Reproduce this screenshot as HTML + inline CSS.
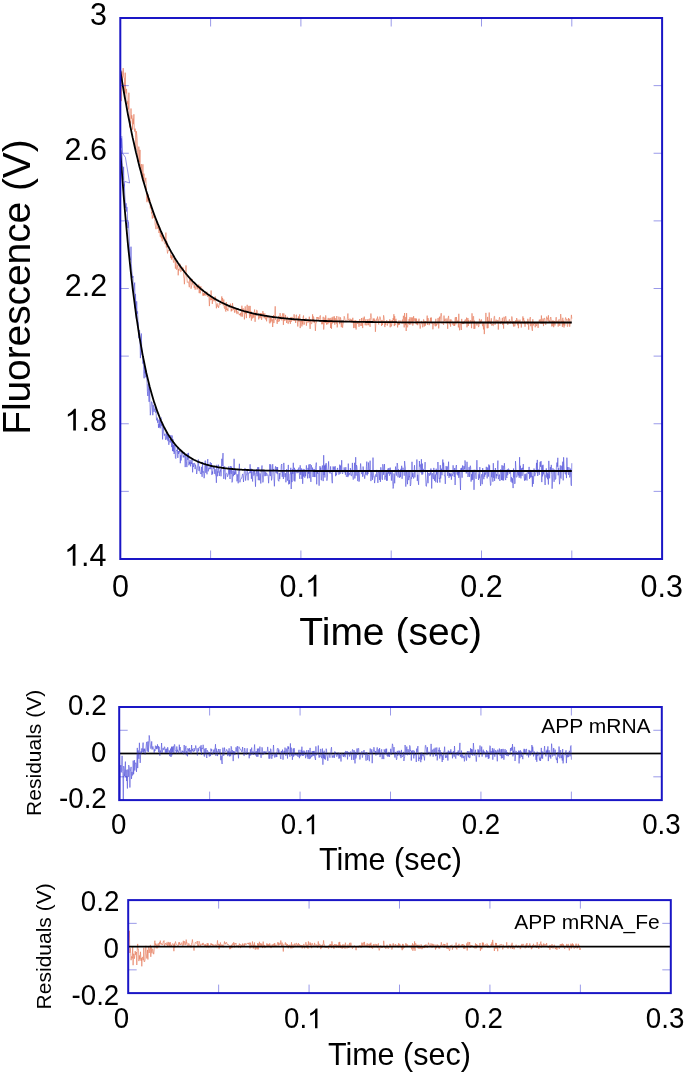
<!DOCTYPE html>
<html><head><meta charset="utf-8"><style>
html,body{margin:0;padding:0;background:#fff;}
svg{display:block;will-change:transform;}
text{font-family:"Liberation Sans",sans-serif;}
</style></head><body>
<svg width="685" height="1075" viewBox="0 0 685 1075" font-family="Liberation Sans, sans-serif">
<rect width="685" height="1075" fill="#fff"/>
<defs><clipPath id="cm"><rect x="120.3" y="18.0" width="541.8000000000001" height="541.0"/></clipPath><clipPath id="c1"><rect x="119.2" y="707.0" width="542.5999999999999" height="93.10000000000002"/></clipPath><clipPath id="c2"><rect x="128.2" y="900.1" width="542.5999999999999" height="93.0"/></clipPath></defs>
<g clip-path="url(#cm)" fill="none" stroke-linejoin="round">
<polyline points="120.3,76.9 120.7,75.0 121.1,87.1 121.5,101.1 121.9,71.4 122.4,80.7 122.8,75.8 123.2,68.1 123.6,76.0 124.0,77.6 124.4,78.0 124.8,98.1 125.2,72.7 125.6,91.3 126.1,93.5 126.5,88.9 126.9,95.1 127.3,104.3 127.7,101.2 128.1,105.2 128.5,109.5 128.9,92.7 129.3,119.7 129.7,127.4 130.2,120.8 130.6,123.3 131.0,108.5 131.4,118.7 131.8,115.2 132.2,117.2 132.6,129.7 133.0,118.6 133.4,124.2 133.9,114.3 134.3,128.8 134.7,131.6 135.1,128.6 135.5,130.5 135.9,150.3 136.3,131.2 136.7,133.8 137.1,138.2 137.6,154.2 138.0,161.7 138.4,151.8 138.8,146.6 139.2,149.9 139.6,162.2 140.0,149.9 140.4,169.8 140.8,171.3 141.3,164.0 141.7,171.0 142.1,173.9 142.5,180.3 142.9,164.3 143.3,181.3 143.7,173.8 144.1,173.7 144.5,181.7 144.9,182.6 145.4,180.0 145.8,177.8 146.2,183.3 146.6,198.4 147.0,202.2 147.4,196.5 147.8,200.7 148.2,194.5 148.6,199.7 149.1,203.0 149.5,198.2 149.9,200.3 150.3,208.4 150.7,207.6 151.1,204.9 151.5,213.5 151.9,212.0 152.3,218.6 152.8,215.0 153.2,214.4 153.6,217.5 154.0,217.5 154.4,217.0 154.8,219.5 155.2,225.3 155.6,225.8 156.0,229.2 156.5,219.2 156.9,224.6 157.3,225.6 157.7,228.7 158.1,227.0 158.5,227.7 158.9,233.0 159.3,232.0 159.7,227.4 160.2,236.8 160.6,236.6 161.0,232.3 161.4,238.3 161.8,233.2 162.2,241.3 162.6,237.0 163.0,236.2 163.4,238.3 163.8,238.1 164.3,242.6 164.7,243.5 165.1,244.3 165.5,243.0 165.9,232.6 166.3,247.5 166.7,241.0 167.1,249.7 167.5,253.4 168.0,251.0 168.4,249.8 168.8,250.4 169.2,250.9 169.6,250.1 170.0,250.7 170.4,251.1 170.8,258.1 171.2,255.0 171.7,259.7 172.1,255.8 172.5,257.6 172.9,256.9 173.3,261.1 173.7,262.6 174.1,260.5 174.5,258.6 174.9,259.6 175.4,268.6 175.8,261.2 176.2,262.5 176.6,269.7 177.0,269.1 177.4,267.3 177.8,264.6 178.2,275.3 178.6,269.1 179.0,270.7 179.5,267.8 179.9,263.8 180.3,265.3 180.7,271.9 181.1,271.6 181.5,269.5 181.9,267.5 182.3,267.3 182.7,271.0 183.2,267.7 183.6,276.6 184.0,278.1 184.4,284.2 184.8,277.9 185.2,273.5 185.6,273.5 186.0,265.4 186.4,275.5 186.9,277.9 187.3,282.5 187.7,282.1 188.1,282.2 188.5,281.8 188.9,284.2 189.3,287.2 189.7,278.8 190.1,281.3 190.6,278.6 191.0,288.7 191.4,287.2 191.8,285.2 192.2,279.2 192.6,284.3 193.0,283.4 193.4,284.5 193.8,284.7 194.2,287.9 194.7,285.2 195.1,289.7 195.5,287.6 195.9,286.3 196.3,286.4 196.7,285.6 197.1,289.5 197.5,286.2 197.9,288.7 198.4,287.2 198.8,284.6 199.2,293.1 199.6,287.5 200.0,293.4 200.4,293.1 200.8,286.2 201.2,288.5 201.6,290.5 202.1,289.7 202.5,288.8 202.9,295.7 203.3,293.1 203.7,295.7 204.1,293.2 204.5,295.3 204.9,292.1 205.3,294.4 205.8,295.6 206.2,294.3 206.6,293.2 207.0,291.8 207.4,296.2 207.8,296.9 208.2,296.0 208.6,294.1 209.0,298.5 209.4,306.1 209.9,297.1 210.3,299.9 210.7,300.1 211.1,290.5 211.5,299.9 211.9,296.9 212.3,303.9 212.7,298.5 213.1,297.4 213.6,300.2 214.0,301.3 214.4,298.7 214.8,300.4 215.2,296.5 215.6,300.3 216.0,303.8 216.4,308.3 216.8,304.2 217.3,303.5 217.7,306.5 218.1,305.7 218.5,307.9 218.9,306.6 219.3,303.2 219.7,304.3 220.1,303.6 220.5,304.4 221.0,304.2 221.4,300.8 221.8,296.4 222.2,301.5 222.6,298.0 223.0,305.3 223.4,305.2 223.8,299.5 224.2,307.6 224.7,308.7 225.1,305.7 225.5,310.9 225.9,311.6 226.3,302.0 226.7,310.0 227.1,308.5 227.5,308.9 227.9,311.1 228.3,305.3 228.8,305.4 229.2,305.1 229.6,305.2 230.0,307.8 230.4,303.7 230.8,305.6 231.2,311.4 231.6,308.9 232.0,310.7 232.5,303.1 232.9,306.9 233.3,307.9 233.7,309.8 234.1,307.8 234.5,312.6 234.9,309.5 235.3,309.1 235.7,309.1 236.2,312.6 236.6,308.7 237.0,314.1 237.4,311.7 237.8,311.8 238.2,311.6 238.6,312.8 239.0,314.7 239.4,314.8 239.9,313.9 240.3,315.4 240.7,312.8 241.1,316.5 241.5,312.3 241.9,305.7 242.3,316.7 242.7,312.7 243.1,308.2 243.5,311.9 244.0,309.5 244.4,319.4 244.8,313.5 245.2,306.4 245.6,313.8 246.0,310.6 246.4,318.1 246.8,308.3 247.2,304.8 247.7,312.6 248.1,311.3 248.5,310.9 248.9,305.9 249.3,313.9 249.7,318.1 250.1,305.9 250.5,316.4 250.9,311.1 251.4,320.6 251.8,315.0 252.2,312.9 252.6,318.4 253.0,316.9 253.4,313.3 253.8,317.6 254.2,313.1 254.6,309.5 255.1,321.8 255.5,313.5 255.9,312.5 256.3,315.8 256.7,310.0 257.1,310.4 257.5,313.6 257.9,313.5 258.3,315.6 258.7,319.4 259.2,314.1 259.6,317.8 260.0,318.3 260.4,313.0 260.8,317.6 261.2,313.1 261.6,319.9 262.0,317.5 262.4,315.8 262.9,311.1 263.3,315.4 263.7,313.2 264.1,318.2 264.5,315.9 264.9,313.4 265.3,319.2 265.7,319.4 266.1,314.9 266.6,321.3 267.0,316.1 267.4,316.0 267.8,318.1 268.2,315.3 268.6,316.2 269.0,317.1 269.4,322.7 269.8,323.4 270.3,317.1 270.7,322.5 271.1,317.6 271.5,318.9 271.9,321.3 272.3,319.4 272.7,327.0 273.1,320.1 273.5,315.0 273.9,323.1 274.4,316.5 274.8,316.3 275.2,306.3 275.6,320.0 276.0,319.6 276.4,320.4 276.8,321.5 277.2,323.9 277.6,319.0 278.1,322.0 278.5,316.2 278.9,316.2 279.3,321.3 279.7,319.4 280.1,313.1 280.5,319.2 280.9,317.8 281.3,316.4 281.8,320.4 282.2,317.2 282.6,313.4 283.0,315.1 283.4,324.9 283.8,313.4 284.2,318.9 284.6,320.8 285.0,320.9 285.5,314.9 285.9,317.8 286.3,319.9 286.7,323.0 287.1,318.0 287.5,316.8 287.9,323.6 288.3,323.7 288.7,321.2 289.2,317.8 289.6,321.5 290.0,321.0 290.4,323.8 290.8,317.1 291.2,321.8 291.6,320.5 292.0,316.9 292.4,320.4 292.8,320.0 293.3,318.2 293.7,320.8 294.1,314.3 294.5,319.2 294.9,320.9 295.3,320.4 295.7,323.0 296.1,315.0 296.5,314.8 297.0,320.1 297.4,321.2 297.8,326.5 298.2,321.2 298.6,316.4 299.0,321.9 299.4,316.3 299.8,314.3 300.2,328.1 300.7,320.7 301.1,322.0 301.5,321.2 301.9,326.4 302.3,320.7 302.7,324.3 303.1,317.3 303.5,315.5 303.9,324.8 304.4,324.4 304.8,321.5 305.2,320.5 305.6,320.3 306.0,317.9 306.4,325.7 306.8,321.8 307.2,321.5 307.6,320.7 308.0,322.7 308.5,321.1 308.9,321.8 309.3,316.7 309.7,322.6 310.1,328.9 310.5,319.3 310.9,320.4 311.3,324.1 311.7,323.7 312.2,322.0 312.6,314.3 313.0,321.9 313.4,316.5 313.8,317.7 314.2,322.9 314.6,320.4 315.0,323.2 315.4,330.9 315.9,322.8 316.3,323.0 316.7,317.1 317.1,317.8 317.5,317.1 317.9,319.3 318.3,317.3 318.7,318.3 319.1,319.7 319.6,317.3 320.0,315.9 320.4,315.4 320.8,321.9 321.2,320.5 321.6,324.1 322.0,324.2 322.4,320.0 322.8,324.2 323.2,316.8 323.7,329.5 324.1,325.4 324.5,321.0 324.9,317.6 325.3,322.9 325.7,315.4 326.1,318.5 326.5,324.6 326.9,321.8 327.4,319.8 327.8,324.3 328.2,317.9 328.6,323.1 329.0,319.6 329.4,318.7 329.8,322.9 330.2,317.9 330.6,328.0 331.1,319.7 331.5,328.8 331.9,317.5 332.3,323.5 332.7,317.7 333.1,316.7 333.5,321.1 333.9,322.7 334.3,316.3 334.8,324.7 335.2,318.1 335.6,321.5 336.0,322.5 336.4,323.6 336.8,316.0 337.2,327.4 337.6,323.5 338.0,320.5 338.4,318.8 338.9,316.7 339.3,317.5 339.7,324.2 340.1,320.7 340.5,317.4 340.9,319.8 341.3,327.2 341.7,321.3 342.1,320.6 342.6,327.7 343.0,324.5 343.4,322.7 343.8,320.1 344.2,316.3 344.6,317.7 345.0,319.7 345.4,320.2 345.8,321.9 346.3,321.9 346.7,320.7 347.1,320.7 347.5,316.8 347.9,313.5 348.3,319.7 348.7,319.1 349.1,320.4 349.5,321.7 350.0,318.6 350.4,319.0 350.8,322.2 351.2,322.2 351.6,319.5 352.0,323.0 352.4,320.6 352.8,317.8 353.2,321.2 353.7,328.1 354.1,320.2 354.5,326.6 354.9,327.6 355.3,328.0 355.7,320.1 356.1,329.5 356.5,322.5 356.9,320.9 357.3,321.1 357.8,324.0 358.2,321.9 358.6,321.2 359.0,326.8 359.4,320.2 359.8,319.0 360.2,325.1 360.6,325.0 361.0,325.9 361.5,318.0 361.9,325.8 362.3,323.1 362.7,328.1 363.1,317.7 363.5,322.8 363.9,321.4 364.3,316.6 364.7,320.0 365.2,325.3 365.6,320.3 366.0,319.2 366.4,325.1 366.8,325.3 367.2,325.2 367.6,319.4 368.0,321.6 368.4,325.2 368.9,319.0 369.3,318.7 369.7,324.2 370.1,326.8 370.5,317.6 370.9,313.5 371.3,316.8 371.7,317.8 372.1,320.7 372.5,323.1 373.0,320.6 373.4,318.6 373.8,321.5 374.2,318.5 374.6,321.3 375.0,320.1 375.4,331.8 375.8,325.1 376.2,319.7 376.7,318.7 377.1,320.8 377.5,316.6 377.9,318.9 378.3,319.3 378.7,324.5 379.1,320.0 379.5,318.2 379.9,316.6 380.4,317.6 380.8,321.2 381.2,320.9 381.6,326.0 382.0,320.0 382.4,325.0 382.8,323.0 383.2,321.9 383.6,315.3 384.1,317.6 384.5,324.9 384.9,327.1 385.3,322.7 385.7,324.8 386.1,320.9 386.5,320.7 386.9,320.1 387.3,325.6 387.7,323.6 388.2,321.8 388.6,321.3 389.0,323.7 389.4,323.0 389.8,319.3 390.2,327.3 390.6,321.5 391.0,320.4 391.4,326.4 391.9,324.3 392.3,320.2 392.7,322.7 393.1,318.2 393.5,320.0 393.9,314.2 394.3,326.1 394.7,316.2 395.1,325.2 395.6,319.7 396.0,318.8 396.4,321.2 396.8,323.1 397.2,323.6 397.6,327.4 398.0,322.8 398.4,325.1 398.8,320.5 399.3,324.9 399.7,323.0 400.1,320.5 400.5,322.4 400.9,322.0 401.3,322.6 401.7,323.4 402.1,320.6 402.5,319.6 402.9,323.6 403.4,315.8 403.8,319.9 404.2,327.4 404.6,313.0 405.0,320.4 405.4,325.2 405.8,317.1 406.2,331.0 406.6,313.1 407.1,326.9 407.5,327.3 407.9,325.2 408.3,321.7 408.7,323.7 409.1,319.1 409.5,324.6 409.9,317.3 410.3,320.5 410.8,324.5 411.2,317.4 411.6,320.4 412.0,322.2 412.4,317.5 412.8,325.6 413.2,322.7 413.6,316.2 414.0,320.9 414.5,318.5 414.9,319.0 415.3,321.4 415.7,318.3 416.1,324.1 416.5,318.7 416.9,324.5 417.3,321.3 417.7,325.2 418.2,321.1 418.6,321.3 419.0,318.7 419.4,324.1 419.8,324.9 420.2,328.6 420.6,325.7 421.0,322.2 421.4,320.9 421.8,323.4 422.3,322.2 422.7,327.3 423.1,325.5 423.5,319.4 423.9,319.6 424.3,326.5 424.7,323.0 425.1,321.0 425.5,325.6 426.0,321.1 426.4,321.6 426.8,320.7 427.2,315.6 427.6,324.9 428.0,318.0 428.4,320.1 428.8,320.0 429.2,325.2 429.7,322.6 430.1,323.3 430.5,317.8 430.9,322.6 431.3,317.5 431.7,323.4 432.1,323.7 432.5,322.4 432.9,329.3 433.4,323.6 433.8,324.3 434.2,323.5 434.6,322.5 435.0,326.2 435.4,326.2 435.8,318.8 436.2,326.1 436.6,323.8 437.0,324.7 437.5,323.4 437.9,318.3 438.3,317.9 438.7,328.4 439.1,322.6 439.5,316.7 439.9,322.2 440.3,319.4 440.7,315.3 441.2,313.2 441.6,316.1 442.0,323.4 442.4,322.7 442.8,322.2 443.2,323.7 443.6,324.9 444.0,315.6 444.4,321.2 444.9,319.5 445.3,318.7 445.7,321.3 446.1,323.2 446.5,323.0 446.9,318.5 447.3,321.2 447.7,328.8 448.1,318.0 448.6,315.9 449.0,322.0 449.4,324.0 449.8,324.3 450.2,319.3 450.6,326.6 451.0,320.5 451.4,319.7 451.8,320.6 452.2,321.9 452.7,324.7 453.1,324.6 453.5,322.7 453.9,326.0 454.3,323.2 454.7,325.9 455.1,317.7 455.5,317.2 455.9,324.4 456.4,317.0 456.8,321.1 457.2,322.0 457.6,320.9 458.0,320.4 458.4,327.4 458.8,313.8 459.2,325.7 459.6,330.3 460.1,322.8 460.5,323.7 460.9,325.8 461.3,330.0 461.7,318.9 462.1,323.4 462.5,322.2 462.9,324.1 463.3,322.6 463.8,324.0 464.2,321.3 464.6,322.1 465.0,319.7 465.4,319.6 465.8,321.7 466.2,321.5 466.6,317.6 467.0,327.3 467.4,321.7 467.9,318.0 468.3,326.0 468.7,319.9 469.1,323.6 469.5,322.0 469.9,322.9 470.3,322.2 470.7,320.1 471.1,321.6 471.6,328.2 472.0,313.3 472.4,320.6 472.8,322.1 473.2,316.7 473.6,316.2 474.0,328.9 474.4,320.6 474.8,328.7 475.3,323.1 475.7,322.2 476.1,322.8 476.5,323.1 476.9,325.5 477.3,323.5 477.7,322.7 478.1,322.1 478.5,327.1 479.0,325.7 479.4,318.8 479.8,320.1 480.2,323.7 480.6,320.8 481.0,321.8 481.4,319.4 481.8,321.6 482.2,323.8 482.7,326.2 483.1,322.7 483.5,329.4 483.9,322.9 484.3,334.1 484.7,326.8 485.1,324.4 485.5,320.9 485.9,312.9 486.3,321.7 486.8,322.9 487.2,328.3 487.6,316.9 488.0,328.1 488.4,320.7 488.8,323.6 489.2,312.5 489.6,321.7 490.0,320.8 490.5,324.1 490.9,322.4 491.3,318.3 491.7,325.5 492.1,324.3 492.5,324.0 492.9,325.5 493.3,325.9 493.7,321.3 494.2,316.4 494.6,316.2 495.0,324.9 495.4,323.0 495.8,320.8 496.2,319.6 496.6,321.7 497.0,322.5 497.4,321.4 497.9,320.0 498.3,329.6 498.7,322.4 499.1,319.4 499.5,317.2 499.9,319.2 500.3,323.9 500.7,323.8 501.1,321.0 501.5,322.4 502.0,320.7 502.4,317.8 502.8,325.0 503.2,321.9 503.6,328.6 504.0,316.8 504.4,319.2 504.8,323.1 505.2,319.7 505.7,316.2 506.1,318.4 506.5,322.3 506.9,323.1 507.3,320.9 507.7,324.9 508.1,324.1 508.5,321.4 508.9,320.9 509.4,319.3 509.8,322.2 510.2,323.5 510.6,321.1 511.0,322.6 511.4,320.0 511.8,316.5 512.2,317.9 512.6,324.0 513.1,322.9 513.5,326.5 513.9,321.2 514.3,324.7 514.7,326.4 515.1,325.5 515.5,320.4 515.9,321.9 516.3,322.7 516.7,318.0 517.2,323.3 517.6,325.3 518.0,319.7 518.4,328.2 518.8,321.2 519.2,322.1 519.6,321.4 520.0,319.7 520.4,323.5 520.9,322.4 521.3,327.5 521.7,323.5 522.1,323.5 522.5,320.4 522.9,316.4 523.3,320.5 523.7,318.1 524.1,324.1 524.6,320.7 525.0,326.7 525.4,323.3 525.8,324.0 526.2,321.7 526.6,322.0 527.0,323.3 527.4,324.5 527.8,318.8 528.3,322.5 528.7,329.7 529.1,320.6 529.5,320.4 529.9,318.9 530.3,317.1 530.7,326.2 531.1,322.7 531.5,323.5 531.9,328.7 532.4,330.9 532.8,319.2 533.2,325.6 533.6,324.1 534.0,323.5 534.4,324.0 534.8,322.3 535.2,327.3 535.6,324.1 536.1,323.0 536.5,326.1 536.9,324.5 537.3,323.1 537.7,323.2 538.1,327.9 538.5,323.7 538.9,321.9 539.3,319.8 539.8,321.8 540.2,319.3 540.6,323.0 541.0,323.8 541.4,315.5 541.8,322.1 542.2,323.9 542.6,322.2 543.0,318.6 543.5,326.1 543.9,319.8 544.3,318.1 544.7,318.2 545.1,321.5 545.5,324.5 545.9,324.8 546.3,321.3 546.7,316.6 547.2,318.7 547.6,318.2 548.0,320.9 548.4,315.3 548.8,321.1 549.2,322.5 549.6,320.5 550.0,322.0 550.4,317.9 550.8,317.0 551.3,320.1 551.7,326.4 552.1,325.4 552.5,320.7 552.9,326.2 553.3,320.6 553.7,327.2 554.1,324.1 554.5,321.2 555.0,325.5 555.4,320.0 555.8,319.5 556.2,317.2 556.6,322.7 557.0,321.6 557.4,321.2 557.8,320.7 558.2,326.6 558.7,320.3 559.1,319.3 559.5,325.3 559.9,325.9 560.3,321.2 560.7,314.1 561.1,318.2 561.5,322.3 561.9,321.2 562.4,326.9 562.8,317.8 563.2,325.2 563.6,320.7 564.0,327.5 564.4,322.3 564.8,325.6 565.2,320.0 565.6,317.5 566.0,318.7 566.5,320.3 566.9,319.3 567.3,326.6 567.7,326.6 568.1,322.4 568.5,318.0 568.9,320.6 569.3,318.9 569.7,326.7 570.2,322.6 570.6,323.5 571.0,320.1 571.4,314.9 571.8,318.7" stroke="#e67c5c" stroke-width="0.65"/>
<polyline points="120.3,132.7 120.7,143.3 121.1,147.9 121.5,138.4 121.9,153.3 122.4,165.5 122.8,169.7 123.2,179.8 123.6,166.8 124.0,186.3 124.4,184.3 124.8,194.8 125.2,201.0 125.6,207.8 126.1,203.3 126.5,211.5 126.9,206.9 127.3,210.3 127.7,227.8 128.1,228.0 128.5,221.7 128.9,231.3 129.3,241.8 129.7,257.2 130.2,257.8 130.6,260.2 131.0,246.7 131.4,263.7 131.8,270.9 132.2,274.0 132.6,278.0 133.0,276.0 133.4,292.8 133.9,293.5 134.3,286.1 134.7,282.6 135.1,308.3 135.5,293.9 135.9,309.7 136.3,318.6 136.7,301.3 137.1,313.9 137.6,311.4 138.0,320.6 138.4,323.0 138.8,338.2 139.2,331.8 139.6,330.1 140.0,341.4 140.4,358.1 140.8,348.7 141.3,333.5 141.7,347.7 142.1,354.8 142.5,353.3 142.9,363.6 143.3,360.4 143.7,369.5 144.1,378.3 144.5,365.7 144.9,373.3 145.4,371.3 145.8,377.3 146.2,370.6 146.6,377.4 147.0,382.1 147.4,391.5 147.8,396.0 148.2,383.8 148.6,390.7 149.1,401.8 149.5,388.1 149.9,399.7 150.3,415.2 150.7,411.9 151.1,407.4 151.5,401.7 151.9,401.9 152.3,404.3 152.8,415.2 153.2,404.8 153.6,407.4 154.0,411.9 154.4,409.5 154.8,410.1 155.2,406.4 155.6,412.6 156.0,411.4 156.5,420.3 156.9,420.0 157.3,417.7 157.7,422.8 158.1,419.7 158.5,427.8 158.9,424.0 159.3,427.4 159.7,419.5 160.2,428.3 160.6,418.5 161.0,417.4 161.4,425.9 161.8,423.8 162.2,429.2 162.6,439.4 163.0,426.0 163.4,428.0 163.8,433.4 164.3,435.7 164.7,433.8 165.1,434.5 165.5,439.8 165.9,439.2 166.3,432.3 166.7,438.3 167.1,439.6 167.5,434.8 168.0,441.2 168.4,436.1 168.8,444.8 169.2,441.5 169.6,441.7 170.0,439.1 170.4,442.5 170.8,435.1 171.2,440.1 171.7,447.1 172.1,435.5 172.5,451.0 172.9,439.0 173.3,451.6 173.7,445.0 174.1,454.0 174.5,452.0 174.9,444.6 175.4,457.7 175.8,458.6 176.2,451.4 176.6,450.3 177.0,451.1 177.4,447.3 177.8,457.9 178.2,451.0 178.6,454.0 179.0,451.0 179.5,452.2 179.9,450.0 180.3,463.2 180.7,455.2 181.1,460.5 181.5,456.0 181.9,452.2 182.3,454.0 182.7,453.5 183.2,457.4 183.6,455.7 184.0,457.3 184.4,452.6 184.8,455.1 185.2,467.1 185.6,456.4 186.0,455.0 186.4,461.6 186.9,467.1 187.3,453.5 187.7,459.8 188.1,458.2 188.5,452.9 188.9,465.3 189.3,461.9 189.7,464.1 190.1,459.9 190.6,466.4 191.0,461.9 191.4,464.0 191.8,459.7 192.2,458.6 192.6,472.3 193.0,463.0 193.4,466.9 193.8,465.3 194.2,463.4 194.7,463.2 195.1,469.1 195.5,464.7 195.9,466.3 196.3,468.1 196.7,474.0 197.1,470.8 197.5,468.5 197.9,463.2 198.4,459.5 198.8,470.4 199.2,471.1 199.6,466.5 200.0,471.2 200.4,473.5 200.8,473.3 201.2,474.1 201.6,466.9 202.1,476.8 202.5,462.1 202.9,472.5 203.3,471.4 203.7,472.9 204.1,478.2 204.5,475.9 204.9,462.9 205.3,460.6 205.8,472.8 206.2,464.6 206.6,469.1 207.0,474.3 207.4,461.5 207.8,459.1 208.2,471.4 208.6,469.1 209.0,468.0 209.4,469.2 209.9,465.6 210.3,462.2 210.7,469.2 211.1,465.6 211.5,463.2 211.9,474.9 212.3,471.5 212.7,473.8 213.1,465.9 213.6,468.7 214.0,467.5 214.4,467.7 214.8,473.9 215.2,469.2 215.6,475.4 216.0,475.6 216.4,482.8 216.8,464.8 217.3,476.3 217.7,471.5 218.1,472.5 218.5,464.7 218.9,470.1 219.3,476.0 219.7,471.7 220.1,471.9 220.5,469.4 221.0,476.3 221.4,470.3 221.8,458.8 222.2,466.1 222.6,459.1 223.0,453.1 223.4,468.0 223.8,478.9 224.2,472.4 224.7,466.3 225.1,468.6 225.5,479.4 225.9,474.0 226.3,473.4 226.7,473.3 227.1,473.7 227.5,476.8 227.9,475.8 228.3,474.3 228.8,466.4 229.2,474.4 229.6,468.8 230.0,479.0 230.4,466.1 230.8,472.3 231.2,473.8 231.6,466.5 232.0,482.4 232.5,480.9 232.9,470.7 233.3,476.2 233.7,473.7 234.1,458.8 234.5,475.0 234.9,472.2 235.3,474.3 235.7,468.6 236.2,473.4 236.6,474.2 237.0,481.3 237.4,477.7 237.8,474.3 238.2,483.3 238.6,471.4 239.0,470.7 239.4,463.8 239.9,482.3 240.3,480.3 240.7,479.4 241.1,479.0 241.5,477.8 241.9,477.8 242.3,475.0 242.7,473.9 243.1,475.7 243.5,482.0 244.0,475.4 244.4,471.4 244.8,468.2 245.2,468.3 245.6,480.6 246.0,476.4 246.4,475.3 246.8,473.0 247.2,469.7 247.7,475.2 248.1,480.3 248.5,472.9 248.9,472.7 249.3,472.6 249.7,473.3 250.1,464.3 250.5,472.7 250.9,468.5 251.4,478.8 251.8,469.4 252.2,476.9 252.6,481.5 253.0,471.3 253.4,471.0 253.8,475.6 254.2,474.6 254.6,469.9 255.1,478.3 255.5,486.7 255.9,473.1 256.3,473.4 256.7,469.2 257.1,476.3 257.5,467.5 257.9,467.2 258.3,480.2 258.7,467.2 259.2,478.0 259.6,480.3 260.0,473.4 260.4,476.0 260.8,483.5 261.2,471.6 261.6,469.1 262.0,465.5 262.4,474.1 262.9,482.4 263.3,479.9 263.7,470.2 264.1,470.4 264.5,472.7 264.9,476.2 265.3,471.7 265.7,475.4 266.1,476.0 266.6,472.8 267.0,473.7 267.4,475.3 267.8,474.9 268.2,476.4 268.6,483.2 269.0,476.6 269.4,473.6 269.8,464.2 270.3,476.1 270.7,464.5 271.1,467.5 271.5,480.4 271.9,478.6 272.3,472.6 272.7,464.2 273.1,470.4 273.5,469.1 273.9,476.6 274.4,486.3 274.8,475.0 275.2,468.4 275.6,466.3 276.0,472.9 276.4,472.5 276.8,467.0 277.2,474.1 277.6,467.1 278.1,480.4 278.5,480.3 278.9,481.3 279.3,472.9 279.7,479.1 280.1,475.1 280.5,473.3 280.9,472.7 281.3,465.4 281.8,464.0 282.2,476.8 282.6,471.5 283.0,474.1 283.4,479.0 283.8,462.9 284.2,469.4 284.6,475.4 285.0,477.2 285.5,473.2 285.9,482.3 286.3,477.9 286.7,469.1 287.1,471.8 287.5,480.6 287.9,478.8 288.3,464.9 288.7,484.4 289.2,480.0 289.6,483.8 290.0,473.8 290.4,474.0 290.8,467.8 291.2,489.0 291.6,472.3 292.0,482.1 292.4,469.2 292.8,474.0 293.3,462.8 293.7,471.8 294.1,480.8 294.5,467.8 294.9,481.5 295.3,476.8 295.7,469.5 296.1,472.0 296.5,470.9 297.0,473.3 297.4,472.0 297.8,469.4 298.2,472.7 298.6,468.4 299.0,467.5 299.4,475.3 299.8,478.9 300.2,465.3 300.7,474.8 301.1,470.6 301.5,468.5 301.9,478.9 302.3,471.0 302.7,483.8 303.1,468.9 303.5,476.5 303.9,472.3 304.4,469.4 304.8,477.7 305.2,471.2 305.6,476.2 306.0,471.3 306.4,465.4 306.8,471.8 307.2,472.2 307.6,478.4 308.0,467.9 308.5,473.7 308.9,464.5 309.3,478.2 309.7,467.9 310.1,464.0 310.5,474.4 310.9,481.9 311.3,465.2 311.7,467.7 312.2,470.2 312.6,467.6 313.0,477.0 313.4,469.4 313.8,469.4 314.2,477.0 314.6,469.3 315.0,477.1 315.4,467.6 315.9,465.8 316.3,462.6 316.7,484.3 317.1,470.1 317.5,473.6 317.9,471.8 318.3,473.5 318.7,473.4 319.1,485.7 319.6,468.6 320.0,466.1 320.4,469.9 320.8,467.6 321.2,479.9 321.6,480.3 322.0,469.1 322.4,465.5 322.8,471.3 323.2,481.1 323.7,455.2 324.1,475.0 324.5,465.6 324.9,477.5 325.3,464.6 325.7,470.3 326.1,463.1 326.5,465.9 326.9,480.7 327.4,477.4 327.8,470.1 328.2,467.9 328.6,461.4 329.0,470.7 329.4,473.1 329.8,473.2 330.2,473.1 330.6,466.4 331.1,473.6 331.5,472.9 331.9,480.0 332.3,483.2 332.7,470.7 333.1,466.4 333.5,469.7 333.9,467.6 334.3,466.8 334.8,471.4 335.2,466.2 335.6,476.2 336.0,472.4 336.4,475.2 336.8,473.2 337.2,469.5 337.6,467.9 338.0,472.1 338.4,470.3 338.9,474.7 339.3,472.7 339.7,464.7 340.1,473.9 340.5,465.6 340.9,469.9 341.3,471.0 341.7,460.2 342.1,473.1 342.6,474.0 343.0,472.2 343.4,470.2 343.8,470.8 344.2,467.4 344.6,472.3 345.0,469.6 345.4,474.7 345.8,467.2 346.3,476.9 346.7,476.5 347.1,474.8 347.5,472.2 347.9,477.1 348.3,463.6 348.7,475.6 349.1,473.2 349.5,473.5 350.0,474.7 350.4,468.2 350.8,470.5 351.2,476.0 351.6,475.9 352.0,473.6 352.4,462.9 352.8,475.6 353.2,479.6 353.7,478.6 354.1,473.5 354.5,462.8 354.9,478.4 355.3,472.2 355.7,457.2 356.1,475.7 356.5,465.1 356.9,466.4 357.3,470.8 357.8,481.1 358.2,470.9 358.6,473.4 359.0,481.7 359.4,480.8 359.8,470.0 360.2,469.9 360.6,463.5 361.0,467.8 361.5,474.1 361.9,473.7 362.3,472.1 362.7,476.8 363.1,466.5 363.5,470.1 363.9,475.5 364.3,475.2 364.7,478.7 365.2,474.7 365.6,470.7 366.0,474.8 366.4,466.7 366.8,461.6 367.2,475.4 367.6,471.8 368.0,474.0 368.4,462.5 368.9,470.8 369.3,470.5 369.7,468.8 370.1,460.7 370.5,473.3 370.9,481.1 371.3,477.5 371.7,472.1 372.1,475.2 372.5,479.8 373.0,457.6 373.4,472.7 373.8,477.2 374.2,476.7 374.6,483.1 375.0,479.8 375.4,475.4 375.8,474.4 376.2,476.9 376.7,469.9 377.1,472.2 377.5,477.8 377.9,482.9 378.3,471.5 378.7,471.9 379.1,473.5 379.5,479.9 379.9,471.9 380.4,481.9 380.8,467.3 381.2,471.9 381.6,471.1 382.0,479.0 382.4,479.8 382.8,464.2 383.2,467.2 383.6,474.8 384.1,469.6 384.5,464.1 384.9,479.7 385.3,475.9 385.7,476.6 386.1,471.7 386.5,480.7 386.9,472.7 387.3,480.7 387.7,469.3 388.2,468.4 388.6,473.6 389.0,468.2 389.4,475.7 389.8,474.7 390.2,467.6 390.6,474.0 391.0,472.5 391.4,480.6 391.9,471.8 392.3,471.3 392.7,481.4 393.1,488.5 393.5,486.5 393.9,473.5 394.3,474.7 394.7,483.3 395.1,472.6 395.6,466.6 396.0,473.1 396.4,475.6 396.8,467.5 397.2,463.0 397.6,465.1 398.0,477.3 398.4,469.2 398.8,473.2 399.3,475.5 399.7,477.9 400.1,471.6 400.5,476.9 400.9,468.8 401.3,471.0 401.7,465.8 402.1,478.8 402.5,471.7 402.9,467.7 403.4,468.9 403.8,469.6 404.2,475.7 404.6,461.1 405.0,465.0 405.4,468.0 405.8,486.6 406.2,477.2 406.6,470.8 407.1,476.3 407.5,484.2 407.9,470.7 408.3,470.4 408.7,480.1 409.1,476.4 409.5,477.2 409.9,470.8 410.3,486.0 410.8,484.3 411.2,477.5 411.6,478.6 412.0,461.8 412.4,477.0 412.8,473.1 413.2,476.6 413.6,478.5 414.0,472.8 414.5,465.2 414.9,477.4 415.3,470.2 415.7,471.9 416.1,470.8 416.5,471.9 416.9,459.5 417.3,480.9 417.7,474.8 418.2,480.6 418.6,484.8 419.0,472.7 419.4,461.0 419.8,466.6 420.2,464.4 420.6,468.5 421.0,472.6 421.4,459.2 421.8,474.6 422.3,463.6 422.7,474.4 423.1,471.4 423.5,469.4 423.9,471.6 424.3,468.1 424.7,467.8 425.1,462.1 425.5,473.2 426.0,485.9 426.4,486.4 426.8,482.3 427.2,479.1 427.6,470.4 428.0,483.2 428.4,473.4 428.8,474.0 429.2,473.6 429.7,475.8 430.1,472.7 430.5,474.5 430.9,468.5 431.3,472.4 431.7,488.5 432.1,473.7 432.5,473.2 432.9,477.7 433.4,479.1 433.8,467.9 434.2,472.8 434.6,480.8 435.0,475.9 435.4,474.5 435.8,482.3 436.2,468.7 436.6,474.5 437.0,470.0 437.5,482.7 437.9,462.0 438.3,470.3 438.7,471.6 439.1,478.6 439.5,477.9 439.9,482.5 440.3,465.2 440.7,478.5 441.2,471.9 441.6,468.7 442.0,475.2 442.4,466.4 442.8,459.5 443.2,470.1 443.6,462.6 444.0,468.6 444.4,476.0 444.9,475.8 445.3,483.9 445.7,473.1 446.1,466.1 446.5,469.9 446.9,468.8 447.3,466.5 447.7,475.8 448.1,470.0 448.6,461.7 449.0,477.9 449.4,472.9 449.8,475.9 450.2,474.0 450.6,476.4 451.0,472.7 451.4,479.7 451.8,474.9 452.2,474.3 452.7,475.7 453.1,465.3 453.5,473.4 453.9,473.1 454.3,477.0 454.7,468.0 455.1,485.0 455.5,475.3 455.9,467.3 456.4,465.0 456.8,472.6 457.2,474.6 457.6,470.4 458.0,475.5 458.4,470.4 458.8,477.8 459.2,470.0 459.6,473.1 460.1,480.1 460.5,490.0 460.9,468.3 461.3,470.5 461.7,467.8 462.1,477.7 462.5,465.5 462.9,468.8 463.3,471.7 463.8,465.9 464.2,466.4 464.6,469.5 465.0,460.4 465.4,463.6 465.8,470.1 466.2,473.5 466.6,472.1 467.0,461.8 467.4,468.9 467.9,477.0 468.3,475.9 468.7,472.3 469.1,467.1 469.5,476.9 469.9,469.5 470.3,465.7 470.7,467.9 471.1,481.6 471.6,474.2 472.0,480.1 472.4,470.9 472.8,479.7 473.2,469.8 473.6,473.0 474.0,489.8 474.4,478.6 474.8,469.7 475.3,472.5 475.7,475.1 476.1,478.9 476.5,468.0 476.9,460.2 477.3,469.0 477.7,471.5 478.1,472.0 478.5,480.0 479.0,474.3 479.4,478.3 479.8,467.1 480.2,478.6 480.6,485.9 481.0,478.8 481.4,475.7 481.8,474.2 482.2,484.2 482.7,468.1 483.1,473.7 483.5,477.2 483.9,479.2 484.3,472.4 484.7,476.8 485.1,472.3 485.5,474.6 485.9,472.3 486.3,466.8 486.8,473.9 487.2,478.4 487.6,467.5 488.0,471.8 488.4,476.6 488.8,464.5 489.2,471.8 489.6,465.5 490.0,479.0 490.5,485.6 490.9,484.8 491.3,471.4 491.7,477.2 492.1,472.6 492.5,472.2 492.9,481.7 493.3,463.2 493.7,477.8 494.2,471.7 494.6,480.9 495.0,474.1 495.4,468.0 495.8,475.1 496.2,478.5 496.6,474.0 497.0,476.1 497.4,469.4 497.9,460.6 498.3,479.2 498.7,477.6 499.1,474.7 499.5,474.8 499.9,481.0 500.3,471.5 500.7,469.4 501.1,471.7 501.5,479.9 502.0,465.2 502.4,480.3 502.8,468.6 503.2,465.8 503.6,480.5 504.0,470.7 504.4,463.2 504.8,469.5 505.2,477.7 505.7,480.1 506.1,470.7 506.5,476.5 506.9,478.0 507.3,469.3 507.7,475.2 508.1,472.0 508.5,468.6 508.9,469.0 509.4,473.2 509.8,473.8 510.2,471.0 510.6,471.9 511.0,481.7 511.4,477.2 511.8,480.4 512.2,482.8 512.6,478.3 513.1,488.1 513.5,468.5 513.9,477.5 514.3,470.9 514.7,483.9 515.1,483.1 515.5,461.1 515.9,467.5 516.3,477.2 516.7,477.2 517.2,476.2 517.6,470.8 518.0,474.0 518.4,475.4 518.8,471.0 519.2,477.8 519.6,457.2 520.0,476.4 520.4,465.7 520.9,478.4 521.3,471.9 521.7,468.2 522.1,475.9 522.5,467.8 522.9,469.2 523.3,464.1 523.7,472.9 524.1,476.8 524.6,480.7 525.0,474.1 525.4,480.2 525.8,474.7 526.2,473.5 526.6,478.1 527.0,480.5 527.4,470.0 527.8,470.8 528.3,471.0 528.7,474.0 529.1,466.9 529.5,478.9 529.9,471.6 530.3,477.6 530.7,469.9 531.1,476.6 531.5,477.2 531.9,472.2 532.4,486.7 532.8,475.9 533.2,484.0 533.6,479.2 534.0,468.5 534.4,470.9 534.8,476.2 535.2,473.9 535.6,473.9 536.1,471.2 536.5,462.9 536.9,472.2 537.3,459.9 537.7,476.0 538.1,469.5 538.5,469.8 538.9,471.8 539.3,474.8 539.8,464.4 540.2,461.9 540.6,466.8 541.0,461.1 541.4,467.0 541.8,482.1 542.2,465.4 542.6,476.4 543.0,464.8 543.5,474.3 543.9,471.9 544.3,473.4 544.7,478.0 545.1,485.0 545.5,475.0 545.9,474.3 546.3,468.4 546.7,477.5 547.2,472.5 547.6,479.2 548.0,473.7 548.4,484.5 548.8,460.9 549.2,471.3 549.6,478.3 550.0,470.8 550.4,467.2 550.8,471.0 551.3,464.9 551.7,474.5 552.1,488.7 552.5,481.1 552.9,468.3 553.3,469.9 553.7,472.7 554.1,481.8 554.5,469.7 555.0,470.4 555.4,479.5 555.8,478.8 556.2,470.6 556.6,464.4 557.0,462.5 557.4,466.7 557.8,457.8 558.2,475.3 558.7,468.1 559.1,475.8 559.5,484.2 559.9,480.0 560.3,465.4 560.7,477.7 561.1,478.5 561.5,466.9 561.9,465.7 562.4,470.5 562.8,461.7 563.2,480.4 563.6,457.3 564.0,466.0 564.4,471.4 564.8,472.2 565.2,474.0 565.6,474.3 566.0,470.5 566.5,478.1 566.9,457.7 567.3,470.8 567.7,467.0 568.1,472.8 568.5,474.8 568.9,467.3 569.3,469.1 569.7,477.4 570.2,475.4 570.6,468.6 571.0,483.9 571.4,485.8 571.8,463.2" stroke="#5656dc" stroke-width="0.65"/>
<polyline points="121.8,136 122.6,153.4 125.4,157.3 129.6,183 124.8,181.4 123.5,192" stroke="#5656dc" stroke-width="0.65"/>
<polyline points="120.3,70.5 121.4,77.5 122.6,84.4 123.7,91.0 124.8,97.5 126.0,103.7 127.1,109.8 128.2,115.8 129.4,121.5 130.5,127.1 131.6,132.6 132.7,137.9 133.9,143.0 135.0,148.0 136.1,152.9 137.3,157.6 138.4,162.2 139.5,166.7 140.7,171.1 141.8,175.3 142.9,179.4 144.1,183.4 145.2,187.3 146.3,191.0 147.5,194.7 148.6,198.3 149.7,201.7 150.9,205.1 152.0,208.4 153.1,211.6 154.2,214.6 155.4,217.7 156.5,220.6 157.6,223.4 158.8,226.2 159.9,228.9 161.0,231.5 162.2,234.0 163.3,236.5 164.4,238.9 165.6,241.2 166.7,243.5 167.8,245.7 169.0,247.8 170.1,249.9 171.2,251.9 172.4,253.9 173.5,255.8 174.6,257.7 175.7,259.5 176.9,261.3 178.0,263.0 179.1,264.6 180.3,266.2 181.4,267.8 182.5,269.3 183.7,270.8 184.8,272.3 185.9,273.7 187.1,275.0 188.2,276.3 189.3,277.6 190.5,278.9 191.6,280.1 192.7,281.3 193.9,282.4 195.0,283.5 196.1,284.6 197.2,285.7 198.4,286.7 199.5,287.7 200.6,288.7 201.8,289.6 202.9,290.5 204.0,291.4 205.2,292.3 206.3,293.1 207.4,294.0 208.6,294.8 209.7,295.5 210.8,296.3 212.0,297.0 213.1,297.7 214.2,298.4 215.4,299.1 216.5,299.7 217.6,300.4 218.7,301.0 219.9,301.6 221.0,302.2 222.1,302.7 223.3,303.3 224.4,303.8 225.5,304.4 226.7,304.9 227.8,305.4 228.9,305.8 230.1,306.3 231.2,306.7 232.3,307.2 233.5,307.6 234.6,308.0 235.7,308.4 236.9,308.8 238.0,309.2 239.1,309.6 240.2,309.9 241.4,310.3 242.5,310.6 243.6,311.0 244.8,311.3 245.9,311.6 247.0,311.9 248.2,312.2 249.3,312.5 250.4,312.8 251.6,313.0 252.7,313.3 253.8,313.6 255.0,313.8 256.1,314.0 257.2,314.3 258.4,314.5 259.5,314.7 260.6,315.0 261.7,315.2 262.9,315.4 264.0,315.6 265.1,315.8 266.3,315.9 267.4,316.1 268.5,316.3 269.7,316.5 270.8,316.6 271.9,316.8 273.1,317.0 274.2,317.1 275.3,317.3 276.5,317.4 277.6,317.6 278.7,317.7 279.9,317.8 281.0,318.0 282.1,318.1 283.2,318.2 284.4,318.3 285.5,318.4 286.6,318.6 287.8,318.7 288.9,318.8 290.0,318.9 291.2,319.0 292.3,319.1 293.4,319.2 294.6,319.3 295.7,319.4 296.8,319.4 298.0,319.5 299.1,319.6 300.2,319.7 301.4,319.8 302.5,319.8 303.6,319.9 304.7,320.0 305.9,320.1 307.0,320.1 308.1,320.2 309.3,320.3 310.4,320.3 311.5,320.4 312.7,320.4 313.8,320.5 314.9,320.6 316.1,320.6 317.2,320.7 318.3,320.7 319.5,320.8 320.6,320.8 321.7,320.9 322.9,320.9 324.0,321.0 325.1,321.0 326.2,321.0 327.4,321.1 328.5,321.1 329.6,321.2 330.8,321.2 331.9,321.2 333.0,321.3 334.2,321.3 335.3,321.3 336.4,321.4 337.6,321.4 338.7,321.4 339.8,321.5 341.0,321.5 342.1,321.5 343.2,321.5 344.4,321.6 345.5,321.6 346.6,321.6 347.7,321.6 348.9,321.7 350.0,321.7 351.1,321.7 352.3,321.7 353.4,321.8 354.5,321.8 355.7,321.8 356.8,321.8 357.9,321.8 359.1,321.9 360.2,321.9 361.3,321.9 362.5,321.9 363.6,321.9 364.7,321.9 365.9,322.0 367.0,322.0 368.1,322.0 369.2,322.0 370.4,322.0 371.5,322.0 372.6,322.0 373.8,322.1 374.9,322.1 376.0,322.1 377.2,322.1 378.3,322.1 379.4,322.1 380.6,322.1 381.7,322.1 382.8,322.1 384.0,322.2 385.1,322.2 386.2,322.2 387.4,322.2 388.5,322.2 389.6,322.2 390.7,322.2 391.9,322.2 393.0,322.2 394.1,322.2 395.3,322.2 396.4,322.2 397.5,322.3 398.7,322.3 399.8,322.3 400.9,322.3 402.1,322.3 403.2,322.3 404.3,322.3 405.5,322.3 406.6,322.3 407.7,322.3 408.9,322.3 410.0,322.3 411.1,322.3 412.2,322.3 413.4,322.3 414.5,322.3 415.6,322.3 416.8,322.3 417.9,322.4 419.0,322.4 420.2,322.4 421.3,322.4 422.4,322.4 423.6,322.4 424.7,322.4 425.8,322.4 427.0,322.4 428.1,322.4 429.2,322.4 430.4,322.4 431.5,322.4 432.6,322.4 433.7,322.4 434.9,322.4 436.0,322.4 437.1,322.4 438.3,322.4 439.4,322.4 440.5,322.4 441.7,322.4 442.8,322.4 443.9,322.4 445.1,322.4 446.2,322.4 447.3,322.4 448.5,322.4 449.6,322.4 450.7,322.4 451.9,322.4 453.0,322.4 454.1,322.4 455.2,322.4 456.4,322.4 457.5,322.4 458.6,322.4 459.8,322.4 460.9,322.4 462.0,322.5 463.2,322.5 464.3,322.5 465.4,322.5 466.6,322.5 467.7,322.5 468.8,322.5 470.0,322.5 471.1,322.5 472.2,322.5 473.4,322.5 474.5,322.5 475.6,322.5 476.7,322.5 477.9,322.5 479.0,322.5 480.1,322.5 481.3,322.5 482.4,322.5 483.5,322.5 484.7,322.5 485.8,322.5 486.9,322.5 488.1,322.5 489.2,322.5 490.3,322.5 491.5,322.5 492.6,322.5 493.7,322.5 494.9,322.5 496.0,322.5 497.1,322.5 498.2,322.5 499.4,322.5 500.5,322.5 501.6,322.5 502.8,322.5 503.9,322.5 505.0,322.5 506.2,322.5 507.3,322.5 508.4,322.5 509.6,322.5 510.7,322.5 511.8,322.5 513.0,322.5 514.1,322.5 515.2,322.5 516.4,322.5 517.5,322.5 518.6,322.5 519.7,322.5 520.9,322.5 522.0,322.5 523.1,322.5 524.3,322.5 525.4,322.5 526.5,322.5 527.7,322.5 528.8,322.5 529.9,322.5 531.1,322.5 532.2,322.5 533.3,322.5 534.5,322.5 535.6,322.5 536.7,322.5 537.9,322.5 539.0,322.5 540.1,322.5 541.2,322.5 542.4,322.5 543.5,322.5 544.6,322.5 545.8,322.5 546.9,322.5 548.0,322.5 549.2,322.5 550.3,322.5 551.4,322.5 552.6,322.5 553.7,322.5 554.8,322.5 556.0,322.5 557.1,322.5 558.2,322.5 559.4,322.5 560.5,322.5 561.6,322.5 562.7,322.5 563.9,322.5 565.0,322.5 566.1,322.5 567.3,322.5 568.4,322.5 569.5,322.5 570.7,322.5 571.8,322.5" stroke="#000" stroke-width="1.8"/>
<polyline points="120.3,150.0 121.4,166.1 122.6,181.4 123.7,195.9 124.8,209.7 126.0,222.8 127.1,235.2 128.2,247.1 129.4,258.3 130.5,268.9 131.6,279.1 132.7,288.7 133.9,297.8 135.0,306.5 136.1,314.8 137.3,322.6 138.4,330.0 139.5,337.1 140.7,343.8 141.8,350.2 142.9,356.3 144.1,362.0 145.2,367.5 146.3,372.7 147.5,377.6 148.6,382.3 149.7,386.7 150.9,390.9 152.0,395.0 153.1,398.8 154.2,402.4 155.4,405.8 156.5,409.1 157.6,412.2 158.8,415.2 159.9,418.0 161.0,420.6 162.2,423.1 163.3,425.5 164.4,427.8 165.6,430.0 166.7,432.0 167.8,434.0 169.0,435.8 170.1,437.6 171.2,439.3 172.4,440.9 173.5,442.4 174.6,443.8 175.7,445.2 176.9,446.5 178.0,447.7 179.1,448.9 180.3,450.0 181.4,451.0 182.5,452.0 183.7,453.0 184.8,453.9 185.9,454.7 187.1,455.6 188.2,456.3 189.3,457.1 190.5,457.8 191.6,458.4 192.7,459.1 193.9,459.7 195.0,460.2 196.1,460.8 197.2,461.3 198.4,461.8 199.5,462.2 200.6,462.7 201.8,463.1 202.9,463.5 204.0,463.9 205.2,464.2 206.3,464.6 207.4,464.9 208.6,465.2 209.7,465.5 210.8,465.8 212.0,466.0 213.1,466.3 214.2,466.5 215.4,466.7 216.5,466.9 217.6,467.2 218.7,467.3 219.9,467.5 221.0,467.7 222.1,467.9 223.3,468.0 224.4,468.2 225.5,468.3 226.7,468.4 227.8,468.6 228.9,468.7 230.1,468.8 231.2,468.9 232.3,469.0 233.5,469.1 234.6,469.2 235.7,469.3 236.9,469.4 238.0,469.5 239.1,469.6 240.2,469.6 241.4,469.7 242.5,469.8 243.6,469.8 244.8,469.9 245.9,469.9 247.0,470.0 248.2,470.0 249.3,470.1 250.4,470.1 251.6,470.2 252.7,470.2 253.8,470.3 255.0,470.3 256.1,470.3 257.2,470.4 258.4,470.4 259.5,470.4 260.6,470.5 261.7,470.5 262.9,470.5 264.0,470.5 265.1,470.6 266.3,470.6 267.4,470.6 268.5,470.6 269.7,470.6 270.8,470.7 271.9,470.7 273.1,470.7 274.2,470.7 275.3,470.7 276.5,470.7 277.6,470.7 278.7,470.8 279.9,470.8 281.0,470.8 282.1,470.8 283.2,470.8 284.4,470.8 285.5,470.8 286.6,470.8 287.8,470.8 288.9,470.8 290.0,470.9 291.2,470.9 292.3,470.9 293.4,470.9 294.6,470.9 295.7,470.9 296.8,470.9 298.0,470.9 299.1,470.9 300.2,470.9 301.4,470.9 302.5,470.9 303.6,470.9 304.7,470.9 305.9,470.9 307.0,470.9 308.1,470.9 309.3,470.9 310.4,470.9 311.5,470.9 312.7,470.9 313.8,471.0 314.9,471.0 316.1,471.0 317.2,471.0 318.3,471.0 319.5,471.0 320.6,471.0 321.7,471.0 322.9,471.0 324.0,471.0 325.1,471.0 326.2,471.0 327.4,471.0 328.5,471.0 329.6,471.0 330.8,471.0 331.9,471.0 333.0,471.0 334.2,471.0 335.3,471.0 336.4,471.0 337.6,471.0 338.7,471.0 339.8,471.0 341.0,471.0 342.1,471.0 343.2,471.0 344.4,471.0 345.5,471.0 346.6,471.0 347.7,471.0 348.9,471.0 350.0,471.0 351.1,471.0 352.3,471.0 353.4,471.0 354.5,471.0 355.7,471.0 356.8,471.0 357.9,471.0 359.1,471.0 360.2,471.0 361.3,471.0 362.5,471.0 363.6,471.0 364.7,471.0 365.9,471.0 367.0,471.0 368.1,471.0 369.2,471.0 370.4,471.0 371.5,471.0 372.6,471.0 373.8,471.0 374.9,471.0 376.0,471.0 377.2,471.0 378.3,471.0 379.4,471.0 380.6,471.0 381.7,471.0 382.8,471.0 384.0,471.0 385.1,471.0 386.2,471.0 387.4,471.0 388.5,471.0 389.6,471.0 390.7,471.0 391.9,471.0 393.0,471.0 394.1,471.0 395.3,471.0 396.4,471.0 397.5,471.0 398.7,471.0 399.8,471.0 400.9,471.0 402.1,471.0 403.2,471.0 404.3,471.0 405.5,471.0 406.6,471.0 407.7,471.0 408.9,471.0 410.0,471.0 411.1,471.0 412.2,471.0 413.4,471.0 414.5,471.0 415.6,471.0 416.8,471.0 417.9,471.0 419.0,471.0 420.2,471.0 421.3,471.0 422.4,471.0 423.6,471.0 424.7,471.0 425.8,471.0 427.0,471.0 428.1,471.0 429.2,471.0 430.4,471.0 431.5,471.0 432.6,471.0 433.7,471.0 434.9,471.0 436.0,471.0 437.1,471.0 438.3,471.0 439.4,471.0 440.5,471.0 441.7,471.0 442.8,471.0 443.9,471.0 445.1,471.0 446.2,471.0 447.3,471.0 448.5,471.0 449.6,471.0 450.7,471.0 451.9,471.0 453.0,471.0 454.1,471.0 455.2,471.0 456.4,471.0 457.5,471.0 458.6,471.0 459.8,471.0 460.9,471.0 462.0,471.0 463.2,471.0 464.3,471.0 465.4,471.0 466.6,471.0 467.7,471.0 468.8,471.0 470.0,471.0 471.1,471.0 472.2,471.0 473.4,471.0 474.5,471.0 475.6,471.0 476.7,471.0 477.9,471.0 479.0,471.0 480.1,471.0 481.3,471.0 482.4,471.0 483.5,471.0 484.7,471.0 485.8,471.0 486.9,471.0 488.1,471.0 489.2,471.0 490.3,471.0 491.5,471.0 492.6,471.0 493.7,471.0 494.9,471.0 496.0,471.0 497.1,471.0 498.2,471.0 499.4,471.0 500.5,471.0 501.6,471.0 502.8,471.0 503.9,471.0 505.0,471.0 506.2,471.0 507.3,471.0 508.4,471.0 509.6,471.0 510.7,471.0 511.8,471.0 513.0,471.0 514.1,471.0 515.2,471.0 516.4,471.0 517.5,471.0 518.6,471.0 519.7,471.0 520.9,471.0 522.0,471.0 523.1,471.0 524.3,471.0 525.4,471.0 526.5,471.0 527.7,471.0 528.8,471.0 529.9,471.0 531.1,471.0 532.2,471.0 533.3,471.0 534.5,471.0 535.6,471.0 536.7,471.0 537.9,471.0 539.0,471.0 540.1,471.0 541.2,471.0 542.4,471.0 543.5,471.0 544.6,471.0 545.8,471.0 546.9,471.0 548.0,471.0 549.2,471.0 550.3,471.0 551.4,471.0 552.6,471.0 553.7,471.0 554.8,471.0 556.0,471.0 557.1,471.0 558.2,471.0 559.4,471.0 560.5,471.0 561.6,471.0 562.7,471.0 563.9,471.0 565.0,471.0 566.1,471.0 567.3,471.0 568.4,471.0 569.5,471.0 570.7,471.0 571.8,471.0" stroke="#000" stroke-width="1.8"/>
</g>
<path d="M210.60 559.00V550.50M210.60 18.00V26.50M300.90 559.00V550.50M300.90 18.00V26.50M391.20 559.00V550.50M391.20 18.00V26.50M481.50 559.00V550.50M481.50 18.00V26.50M571.80 559.00V550.50M571.80 18.00V26.50M120.30 85.63H128.80M662.10 85.63H653.60M120.30 153.25H128.80M662.10 153.25H653.60M120.30 220.88H128.80M662.10 220.88H653.60M120.30 288.50H128.80M662.10 288.50H653.60M120.30 356.12H128.80M662.10 356.12H653.60M120.30 423.75H128.80M662.10 423.75H653.60M120.30 491.37H128.80M662.10 491.37H653.60" stroke="#0000c8" stroke-opacity="0.4" stroke-width="1" fill="none"/><rect x="120.30" y="18.00" width="541.80" height="541.00" fill="none" stroke="#1a16c6" stroke-width="2"/>
<line x1="119.2" y1="753.55" x2="661.8" y2="753.55" stroke="#000" stroke-width="1.6"/>
<g clip-path="url(#c1)" fill="none"><polyline points="119.2,741.9 119.6,751.7 120.0,816.4 120.4,767.4 120.8,765.1 121.3,772.4 121.7,764.8 122.1,755.8 122.5,771.6 122.9,773.8 123.3,809.4 123.7,766.1 124.1,768.7 124.5,776.0 125.0,768.3 125.4,761.6 125.8,777.3 126.2,769.8 126.6,781.0 127.0,777.0 127.4,788.5 127.8,769.5 128.3,776.9 128.7,765.1 129.1,766.3 129.5,769.0 129.9,787.5 130.3,771.7 130.7,769.0 131.1,766.9 131.5,778.9 132.0,771.9 132.4,775.4 132.8,775.1 133.2,760.7 133.6,774.2 134.0,767.5 134.4,760.1 134.8,770.5 135.2,764.7 135.7,762.7 136.1,763.4 136.5,771.9 136.9,759.3 137.3,747.9 137.7,768.1 138.1,750.4 138.5,754.0 138.9,758.8 139.4,742.8 139.8,750.9 140.2,762.9 140.6,754.7 141.0,751.4 141.4,753.9 141.8,748.4 142.2,752.1 142.7,747.2 143.1,742.6 143.5,752.6 143.9,748.8 144.3,751.4 144.7,748.7 145.1,754.5 145.5,751.1 145.9,749.1 146.4,743.8 146.8,741.9 147.2,751.5 147.6,747.9 148.0,741.4 148.4,752.0 148.8,745.0 149.2,735.4 149.6,738.8 150.1,742.9 150.5,747.8 150.9,748.7 151.3,748.0 151.7,741.4 152.1,749.5 152.5,748.7 152.9,746.4 153.3,749.0 153.8,749.4 154.2,752.8 154.6,749.4 155.0,751.0 155.4,745.7 155.8,746.7 156.2,749.1 156.6,746.3 157.1,749.2 157.5,744.4 157.9,747.7 158.3,746.1 158.7,752.2 159.1,746.8 159.5,754.3 159.9,755.7 160.3,750.5 160.8,752.5 161.2,749.4 161.6,743.0 162.0,752.9 162.4,752.0 162.8,748.9 163.2,747.9 163.6,749.7 164.0,749.8 164.5,746.7 164.9,747.7 165.3,752.9 165.7,749.3 166.1,748.9 166.5,752.7 166.9,748.7 167.3,752.7 167.7,747.2 168.2,749.9 168.6,750.2 169.0,752.5 169.4,750.5 169.8,756.1 170.2,753.0 170.6,748.6 171.0,757.0 171.5,746.7 171.9,755.3 172.3,747.1 172.7,752.0 173.1,746.1 173.5,747.9 173.9,753.3 174.3,744.7 174.7,744.4 175.2,749.6 175.6,750.7 176.0,750.5 176.4,753.5 176.8,746.5 177.2,751.5 177.6,749.8 178.0,752.1 178.4,751.6 178.9,753.4 179.3,744.7 179.7,750.4 180.1,747.0 180.5,750.4 180.9,753.2 181.3,752.3 181.7,752.8 182.1,750.5 182.6,751.9 183.0,751.0 183.4,754.4 183.8,752.9 184.2,745.0 184.6,752.5 185.0,753.7 185.4,749.4 185.9,745.9 186.3,755.3 186.7,751.2 187.1,752.5 187.5,756.3 187.9,748.2 188.3,750.6 188.7,749.3 189.1,752.3 189.6,748.1 190.0,751.3 190.4,750.1 190.8,753.1 191.2,754.0 191.6,745.0 192.0,751.4 192.4,748.9 192.8,750.1 193.3,751.6 193.7,751.9 194.1,748.1 194.5,751.2 194.9,750.3 195.3,749.2 195.7,745.5 196.1,747.6 196.5,749.3 197.0,753.0 197.4,755.5 197.8,748.5 198.2,748.1 198.6,751.3 199.0,748.3 199.4,746.9 199.8,747.2 200.3,746.7 200.7,751.6 201.1,745.2 201.5,754.9 201.9,748.2 202.3,749.0 202.7,748.2 203.1,744.8 203.5,746.4 204.0,754.9 204.4,756.5 204.8,748.7 205.2,754.1 205.6,751.3 206.0,748.0 206.4,756.4 206.8,758.0 207.2,750.1 207.7,751.7 208.1,752.5 208.5,751.8 208.9,754.2 209.3,756.5 209.7,752.0 210.1,754.4 210.5,756.1 210.9,748.6 211.4,750.8 211.8,749.4 212.2,754.6 212.6,752.9 213.0,753.7 213.4,753.6 213.8,749.7 214.2,752.8 214.7,748.8 215.1,748.8 215.5,744.2 215.9,755.8 216.3,748.5 216.7,751.7 217.1,751.1 217.5,756.1 217.9,752.7 218.4,749.0 218.8,751.8 219.2,751.7 219.6,753.4 220.0,749.0 220.4,752.9 220.8,760.2 221.2,755.6 221.6,760.1 222.1,764.0 222.5,754.5 222.9,747.7 223.3,751.9 223.7,755.8 224.1,754.4 224.5,747.6 224.9,751.0 225.4,751.5 225.8,751.5 226.2,751.4 226.6,749.4 227.0,750.1 227.4,751.1 227.8,756.1 228.2,751.1 228.6,754.6 229.1,748.3 229.5,756.4 229.9,752.5 230.3,751.6 230.7,756.2 231.1,746.3 231.5,747.2 231.9,753.6 232.3,750.2 232.8,751.8 233.2,761.1 233.6,751.1 234.0,752.8 234.4,751.5 234.8,755.1 235.2,752.1 235.6,751.7 236.0,747.3 236.5,749.5 236.9,751.7 237.3,746.0 237.7,753.5 238.1,754.0 238.5,758.3 238.9,746.7 239.3,748.0 239.8,748.6 240.2,748.8 240.6,749.6 241.0,749.6 241.4,751.4 241.8,752.1 242.2,751.0 242.6,747.0 243.0,751.2 243.5,753.7 243.9,755.7 244.3,755.7 244.7,748.0 245.1,750.7 245.5,751.4 245.9,752.8 246.3,754.9 246.7,751.5 247.2,748.3 247.6,752.9 248.0,753.1 248.4,753.1 248.8,752.7 249.2,758.3 249.6,753.1 250.0,755.7 250.4,749.3 250.9,755.2 251.3,750.5 251.7,747.6 252.1,754.0 252.5,754.2 252.9,751.4 253.3,752.0 253.7,755.0 254.2,749.7 254.6,744.5 255.0,753.0 255.4,752.8 255.8,755.4 256.2,751.0 256.6,756.5 257.0,756.7 257.4,748.6 257.9,756.7 258.3,750.0 258.7,748.5 259.1,752.9 259.5,751.2 259.9,746.6 260.3,754.0 260.7,755.6 261.1,757.8 261.6,752.5 262.0,747.3 262.4,748.9 262.8,755.0 263.2,754.8 263.6,753.4 264.0,751.2 264.4,754.0 264.8,751.7 265.3,751.4 265.7,753.3 266.1,752.8 266.5,751.8 266.9,752.0 267.3,751.1 267.7,746.9 268.1,751.0 268.6,752.9 269.0,758.7 269.4,751.3 269.8,758.6 270.2,756.7 270.6,748.7 271.0,749.8 271.4,753.6 271.8,758.8 272.3,755.0 272.7,755.7 273.1,751.1 273.5,745.0 273.9,752.1 274.3,756.2 274.7,757.5 275.1,753.4 275.5,753.7 276.0,757.1 276.4,752.6 276.8,757.0 277.2,748.7 277.6,748.8 278.0,748.1 278.4,753.4 278.8,749.5 279.2,752.0 279.7,753.2 280.1,753.6 280.5,758.1 280.9,759.0 281.3,751.0 281.7,754.3 282.1,752.7 282.5,749.6 283.0,759.7 283.4,755.6 283.8,751.9 284.2,750.8 284.6,753.2 285.0,747.6 285.4,750.3 285.8,755.8 286.2,754.2 286.7,748.6 287.1,749.8 287.5,758.5 287.9,746.3 288.3,749.0 288.7,746.7 289.1,752.9 289.5,752.8 289.9,756.7 290.4,743.4 290.8,753.9 291.2,747.7 291.6,755.8 292.0,752.8 292.4,759.8 292.8,754.2 293.2,748.6 293.6,756.7 294.1,748.1 294.5,751.0 294.9,755.6 295.3,754.1 295.7,754.8 296.1,753.2 296.5,754.1 296.9,755.7 297.4,753.6 297.8,756.4 298.2,756.9 298.6,752.0 299.0,749.8 299.4,758.2 299.8,752.3 300.2,755.0 300.6,756.3 301.1,749.8 301.5,754.7 301.9,746.7 302.3,756.0 302.7,751.3 303.1,753.9 303.5,755.7 303.9,750.5 304.3,754.6 304.8,751.5 305.2,754.5 305.6,758.2 306.0,754.2 306.4,754.0 306.8,750.1 307.2,756.7 307.6,753.0 308.0,758.8 308.5,750.2 308.9,756.7 309.3,759.1 309.7,752.6 310.1,747.9 310.5,758.4 310.9,756.8 311.3,755.3 311.8,756.9 312.2,751.0 312.6,755.7 313.0,755.8 313.4,751.0 313.8,755.8 314.2,750.9 314.6,756.9 315.0,758.0 315.5,760.0 315.9,746.4 316.3,755.3 316.7,753.1 317.1,754.3 317.5,753.2 317.9,753.3 318.3,745.5 318.7,756.3 319.2,757.8 319.6,755.4 320.0,756.9 320.4,749.2 320.8,749.0 321.2,756.0 321.6,758.2 322.0,754.6 322.4,748.5 322.9,764.7 323.3,752.2 323.7,758.2 324.1,750.7 324.5,758.8 324.9,755.2 325.3,759.7 325.7,758.0 326.2,748.7 326.6,750.7 327.0,755.3 327.4,756.7 327.8,760.8 328.2,754.9 328.6,753.4 329.0,753.4 329.4,753.5 329.9,757.7 330.3,753.2 330.7,753.6 331.1,749.1 331.5,747.2 331.9,755.0 332.3,757.7 332.7,755.6 333.1,756.9 333.6,757.4 334.0,754.5 334.4,757.8 334.8,751.5 335.2,753.9 335.6,752.2 336.0,753.4 336.4,755.7 336.8,756.7 337.3,754.1 337.7,755.2 338.1,752.5 338.5,753.7 338.9,758.7 339.3,753.0 339.7,758.2 340.1,755.5 340.6,754.8 341.0,761.5 341.4,753.4 341.8,752.9 342.2,754.1 342.6,755.3 343.0,754.9 343.4,757.0 343.8,754.0 344.3,755.7 344.7,752.5 345.1,757.2 345.5,751.1 345.9,751.3 346.3,752.4 346.7,754.0 347.1,751.0 347.5,759.4 348.0,751.9 348.4,753.4 348.8,753.2 349.2,752.5 349.6,756.5 350.0,755.1 350.4,751.7 350.8,751.7 351.2,753.2 351.7,759.9 352.1,751.9 352.5,749.4 352.9,750.0 353.3,753.3 353.7,759.9 354.1,750.2 354.5,754.0 355.0,763.4 355.4,751.9 355.8,758.5 356.2,757.6 356.6,754.9 357.0,748.5 357.4,754.9 357.8,753.3 358.2,748.1 358.7,748.6 359.1,755.4 359.5,755.5 359.9,759.5 360.3,756.8 360.7,752.9 361.1,753.1 361.5,754.1 361.9,751.2 362.4,757.6 362.8,755.4 363.2,752.0 363.6,752.1 364.0,750.0 364.4,752.5 364.8,755.0 365.2,752.4 365.6,757.5 366.1,760.7 366.5,752.1 366.9,754.3 367.3,752.9 367.7,760.1 368.1,754.9 368.5,755.1 368.9,756.2 369.4,761.2 369.8,753.4 370.2,748.5 370.6,750.7 371.0,754.1 371.4,752.2 371.8,749.3 372.2,763.2 372.6,753.7 373.1,750.9 373.5,751.2 373.9,747.2 374.3,749.3 374.7,752.0 375.1,752.7 375.5,751.1 375.9,755.5 376.3,754.0 376.8,750.5 377.2,747.4 377.6,754.5 378.0,754.3 378.4,753.3 378.8,749.3 379.2,754.3 379.6,748.0 380.0,757.1 380.5,754.3 380.9,754.7 381.3,749.8 381.7,749.3 382.1,759.1 382.5,757.2 382.9,752.5 383.3,755.7 383.8,759.1 384.2,749.4 384.6,751.7 385.0,751.3 385.4,754.3 385.8,748.8 386.2,753.7 386.6,748.7 387.0,755.9 387.5,756.4 387.9,753.1 388.3,756.5 388.7,751.9 389.1,752.5 389.5,756.9 389.9,752.9 390.3,753.9 390.7,748.8 391.2,754.3 391.6,754.6 392.0,748.3 392.4,743.8 392.8,745.1 393.2,753.2 393.6,752.5 394.0,747.1 394.4,753.8 394.9,757.5 395.3,753.5 395.7,751.9 396.1,757.0 396.5,759.8 396.9,758.5 397.3,750.9 397.7,755.9 398.2,753.4 398.6,752.0 399.0,750.5 399.4,754.4 399.8,751.1 400.2,756.2 400.6,754.8 401.0,758.1 401.4,749.9 401.9,754.4 402.3,756.9 402.7,756.1 403.1,755.7 403.5,751.9 403.9,761.0 404.3,758.5 404.7,756.7 405.1,745.0 405.6,750.9 406.0,754.9 406.4,751.5 406.8,746.6 407.2,755.0 407.6,755.2 408.0,749.1 408.4,751.4 408.8,750.9 409.3,754.9 409.7,745.4 410.1,746.5 410.5,750.8 410.9,750.0 411.3,760.6 411.7,751.0 412.1,753.5 412.6,751.3 413.0,750.1 413.4,753.7 413.8,758.4 414.2,750.8 414.6,755.3 415.0,754.2 415.4,754.9 415.8,754.3 416.3,762.0 416.7,748.6 417.1,752.4 417.5,748.8 417.9,746.1 418.3,753.7 418.7,761.1 419.1,757.6 419.5,758.9 420.0,756.4 420.4,753.8 420.8,762.2 421.2,752.5 421.6,759.5 422.0,752.7 422.4,754.6 422.8,755.8 423.3,754.4 423.7,756.6 424.1,756.8 424.5,760.4 424.9,753.4 425.3,745.5 425.7,745.2 426.1,747.7 426.5,749.8 427.0,755.2 427.4,747.2 427.8,753.3 428.2,752.9 428.6,753.2 429.0,751.8 429.4,753.7 429.8,752.6 430.2,756.3 430.7,754.0 431.1,743.9 431.5,753.1 431.9,753.4 432.3,750.6 432.7,749.7 433.1,756.7 433.5,753.7 433.9,748.7 434.4,751.7 434.8,752.6 435.2,747.7 435.6,756.2 436.0,752.6 436.4,755.5 436.8,747.5 437.2,760.4 437.7,755.3 438.1,754.4 438.5,750.0 438.9,750.5 439.3,747.6 439.7,758.5 440.1,750.1 440.5,754.2 440.9,756.3 441.4,752.2 441.8,757.7 442.2,762.0 442.6,755.4 443.0,760.0 443.4,756.3 443.8,751.7 444.2,751.8 444.6,746.7 445.1,753.5 445.5,757.9 445.9,755.5 446.3,756.2 446.7,757.6 447.1,751.8 447.5,755.4 447.9,760.6 448.3,750.5 448.8,753.6 449.2,751.7 449.6,753.0 450.0,751.4 450.4,753.7 450.8,749.3 451.2,752.4 451.6,752.8 452.1,751.8 452.5,758.3 452.9,753.3 453.3,753.5 453.7,751.1 454.1,756.7 454.5,746.0 454.9,752.1 455.3,757.1 455.8,758.6 456.2,753.8 456.6,752.6 457.0,755.2 457.4,752.0 457.8,755.2 458.2,750.5 458.6,755.5 459.0,753.5 459.5,749.1 459.9,742.9 460.3,756.5 460.7,755.1 461.1,756.8 461.5,750.6 461.9,758.2 462.3,756.2 462.7,754.4 463.2,758.0 463.6,757.7 464.0,755.8 464.4,761.4 464.8,759.4 465.2,755.3 465.6,753.2 466.0,754.1 466.5,760.6 466.9,756.1 467.3,751.1 467.7,751.8 468.1,754.0 468.5,757.3 468.9,751.1 469.3,755.7 469.7,758.1 470.2,756.7 470.6,748.2 471.0,752.8 471.4,749.1 471.8,754.9 472.2,749.4 472.6,755.6 473.0,753.5 473.4,743.1 473.9,750.1 474.3,755.6 474.7,753.9 475.1,752.2 475.5,749.8 475.9,756.7 476.3,761.6 476.7,756.1 477.1,754.5 477.6,754.2 478.0,749.2 478.4,752.8 478.8,750.3 479.2,757.2 479.6,750.1 480.0,745.5 480.4,749.9 480.9,751.9 481.3,752.8 481.7,746.6 482.1,756.6 482.5,753.1 482.9,751.0 483.3,749.7 483.7,754.0 484.1,751.2 484.6,754.0 485.0,752.5 485.4,754.0 485.8,757.4 486.2,753.0 486.6,750.2 487.0,757.0 487.4,754.3 487.8,751.3 488.3,758.9 488.7,754.3 489.1,758.3 489.5,749.8 489.9,745.7 490.3,746.2 490.7,754.5 491.1,751.0 491.5,753.8 492.0,754.1 492.4,748.1 492.8,759.7 493.2,750.6 493.6,754.4 494.0,748.6 494.4,752.9 494.8,756.7 495.3,752.2 495.7,750.1 496.1,752.9 496.5,751.6 496.9,755.8 497.3,761.3 497.7,749.7 498.1,750.7 498.5,752.5 499.0,752.5 499.4,748.5 499.8,754.5 500.2,755.8 500.6,754.4 501.0,749.3 501.4,758.4 501.8,749.0 502.2,756.3 502.7,758.1 503.1,748.9 503.5,755.0 503.9,759.7 504.3,755.8 504.7,750.6 505.1,749.1 505.5,755.0 505.9,751.4 506.4,750.4 506.8,755.9 507.2,752.2 507.6,754.2 508.0,756.3 508.4,756.0 508.8,753.5 509.2,753.0 509.7,754.8 510.1,754.2 510.5,748.1 510.9,751.0 511.3,748.9 511.7,747.4 512.1,750.3 512.5,744.1 512.9,756.4 513.4,750.8 513.8,754.9 514.2,746.8 514.6,747.3 515.0,761.0 515.4,757.0 515.8,750.9 516.2,751.0 516.6,751.6 517.1,754.9 517.5,752.9 517.9,752.1 518.3,754.8 518.7,750.6 519.1,763.4 519.5,751.4 519.9,758.2 520.3,750.2 520.8,754.3 521.2,756.6 521.6,751.7 522.0,756.8 522.4,755.9 522.8,759.2 523.2,753.6 523.6,751.2 524.1,748.8 524.5,752.9 524.9,749.1 525.3,752.5 525.7,753.2 526.1,750.4 526.5,748.9 526.9,755.4 527.3,754.9 527.8,754.8 528.2,753.0 528.6,757.4 529.0,749.9 529.4,754.5 529.8,750.7 530.2,755.5 530.6,751.3 531.0,750.9 531.5,754.1 531.9,745.0 532.3,751.7 532.7,746.7 533.1,749.7 533.5,756.4 533.9,754.9 534.3,751.5 534.7,753.0 535.2,753.0 535.6,754.7 536.0,759.9 536.4,754.0 536.8,761.8 537.2,751.7 537.6,755.8 538.0,755.6 538.5,754.3 538.9,752.4 539.3,758.9 539.7,760.5 540.1,757.5 540.5,761.0 540.9,757.3 541.3,747.9 541.7,758.3 542.2,751.4 542.6,758.7 543.0,752.7 543.4,754.2 543.8,753.3 544.2,750.4 544.6,746.1 545.0,752.3 545.4,752.7 545.9,756.4 546.3,750.7 546.7,753.9 547.1,749.7 547.5,753.2 547.9,746.4 548.3,761.1 548.7,754.6 549.1,750.3 549.6,754.9 550.0,757.2 550.4,754.8 550.8,758.6 551.2,752.7 551.6,743.7 552.0,748.5 552.4,756.5 552.9,755.5 553.3,753.7 553.7,748.0 554.1,755.6 554.5,755.2 554.9,749.5 555.3,749.9 555.7,755.0 556.1,759.0 556.6,760.1 557.0,757.5 557.4,763.1 557.8,752.2 558.2,756.7 558.6,751.8 559.0,746.5 559.4,749.2 559.8,758.3 560.3,750.6 560.7,750.1 561.1,757.4 561.5,758.1 561.9,755.2 562.3,760.6 562.7,749.0 563.1,763.4 563.5,757.9 564.0,754.5 564.4,754.1 564.8,753.0 565.2,752.7 565.6,755.1 566.0,750.3 566.4,763.1 566.8,754.9 567.3,757.3 567.7,753.7 568.1,752.4 568.5,757.1 568.9,756.0 569.3,750.8 569.7,752.1 570.1,756.3 570.5,746.8 571.0,745.5 571.4,759.7" stroke="#5656dc" stroke-width="0.65"/></g>
<line x1="119.2" y1="753.55" x2="661.8" y2="753.55" stroke="#000" stroke-width="1.6" stroke-opacity="0.6"/>
<path d="M209.63 800.10V791.60M209.63 707.00V715.50M300.07 800.10V791.60M300.07 707.00V715.50M390.50 800.10V791.60M390.50 707.00V715.50M480.93 800.10V791.60M480.93 707.00V715.50M571.37 800.10V791.60M571.37 707.00V715.50M119.20 730.27H127.70M661.80 730.27H653.30M119.20 776.82H127.70M661.80 776.82H653.30" stroke="#0000c8" stroke-opacity="0.4" stroke-width="1" fill="none"/><rect x="119.20" y="707.00" width="542.60" height="93.10" fill="none" stroke="#1a16c6" stroke-width="2"/>
<g clip-path="url(#c2)" fill="none"><polyline points="128.2,942.2 128.6,945.3 129.0,938.7 129.4,930.8 129.8,953.0 130.3,948.2 130.7,953.3 131.1,960.2 131.5,956.5 131.9,957.0 132.3,958.4 132.7,946.1 133.1,965.2 133.5,953.9 134.0,954.0 134.4,958.7 134.8,955.9 135.2,951.1 135.6,954.7 136.0,953.4 136.4,952.0 136.8,965.0 137.3,947.8 137.7,943.9 138.1,949.9 138.5,949.5 138.9,961.1 139.3,955.4 139.7,959.2 140.1,959.2 140.5,951.8 141.0,960.8 141.4,958.2 141.8,966.3 142.2,957.6 142.6,956.9 143.0,960.2 143.4,960.1 143.8,947.7 144.2,962.0 144.7,961.4 145.1,959.6 145.5,949.8 145.9,945.8 146.3,953.7 146.7,958.4 147.1,957.3 147.5,949.9 147.9,959.5 148.4,946.8 148.8,946.9 149.2,953.0 149.6,949.2 150.0,948.3 150.4,944.9 150.8,956.8 151.2,946.3 151.7,952.3 152.1,953.3 152.5,948.9 152.9,949.2 153.3,951.9 153.7,954.2 154.1,951.5 154.5,942.4 154.9,940.7 155.4,945.3 155.8,943.5 156.2,948.3 156.6,945.8 157.0,944.4 157.4,948.3 157.8,947.7 158.2,943.3 158.6,944.6 159.1,947.0 159.5,942.3 159.9,944.0 160.3,940.6 160.7,943.6 161.1,944.6 161.5,943.4 161.9,944.1 162.3,945.0 162.8,944.2 163.2,941.5 163.6,941.8 164.0,940.5 164.4,946.8 164.8,944.3 165.2,944.3 165.6,943.2 166.1,944.7 166.5,944.9 166.9,942.5 167.3,943.5 167.7,946.6 168.1,941.9 168.5,942.6 168.9,945.6 169.3,942.7 169.8,946.1 170.2,942.1 170.6,945.0 171.0,945.9 171.4,945.2 171.8,945.9 172.2,943.8 172.6,943.8 173.0,943.8 173.5,945.0 173.9,951.2 174.3,943.5 174.7,947.5 175.1,943.2 175.5,941.5 175.9,943.3 176.3,944.4 176.7,944.5 177.2,944.7 177.6,945.5 178.0,945.6 178.4,945.8 178.8,942.3 179.2,944.4 179.6,942.3 180.0,944.8 180.5,944.2 180.9,944.9 181.3,943.1 181.7,942.6 182.1,944.1 182.5,945.5 182.9,945.4 183.3,940.8 183.7,945.2 184.2,944.8 184.6,941.3 185.0,942.0 185.4,943.3 185.8,945.1 186.2,939.6 186.6,943.3 187.0,942.7 187.4,944.6 187.9,947.1 188.3,946.6 188.7,943.3 189.1,943.8 189.5,945.3 189.9,946.7 190.3,947.0 190.7,945.3 191.1,947.4 191.6,942.9 192.0,942.4 192.4,939.5 192.8,943.1 193.2,945.7 193.6,946.0 194.0,950.6 194.4,945.4 194.9,944.5 195.3,942.3 195.7,942.7 196.1,942.9 196.5,943.4 196.9,942.4 197.3,941.0 197.7,945.7 198.1,944.6 198.6,946.3 199.0,941.2 199.4,942.3 199.8,943.5 200.2,946.9 200.6,944.5 201.0,945.2 201.4,944.8 201.8,944.9 202.3,943.4 202.7,945.1 203.1,942.9 203.5,944.2 203.9,945.1 204.3,945.3 204.7,945.9 205.1,944.0 205.5,946.0 206.0,944.8 206.4,945.8 206.8,947.4 207.2,943.1 207.6,946.2 208.0,943.3 208.4,943.7 208.8,947.5 209.3,946.4 209.7,945.6 210.1,946.2 210.5,946.8 210.9,943.3 211.3,944.9 211.7,943.7 212.1,945.2 212.5,944.2 213.0,946.1 213.4,945.0 213.8,944.5 214.2,945.4 214.6,946.1 215.0,947.0 215.4,944.8 215.8,944.6 216.2,945.2 216.7,946.4 217.1,944.2 217.5,940.4 217.9,945.3 218.3,943.9 218.7,944.0 219.1,949.2 219.5,944.4 219.9,946.1 220.4,942.5 220.8,945.5 221.2,946.2 221.6,944.9 222.0,944.4 222.4,945.9 222.8,945.1 223.2,947.3 223.7,945.4 224.1,943.7 224.5,941.5 224.9,943.8 225.3,944.3 225.7,942.8 226.1,943.3 226.5,942.3 226.9,943.1 227.4,945.0 227.8,944.5 228.2,945.0 228.6,944.7 229.0,944.9 229.4,946.8 229.8,949.2 230.2,946.6 230.6,948.6 231.1,944.9 231.5,945.0 231.9,948.1 232.3,943.9 232.7,943.5 233.1,945.1 233.5,942.5 233.9,942.2 234.4,947.4 234.8,943.3 235.2,944.1 235.6,944.0 236.0,943.0 236.4,946.1 236.8,946.1 237.2,946.4 237.6,946.4 238.1,945.1 238.5,947.4 238.9,946.5 239.3,943.5 239.7,944.9 240.1,944.0 240.5,948.1 240.9,946.2 241.3,945.8 241.8,944.8 242.2,946.0 242.6,943.5 243.0,945.2 243.4,945.5 243.8,945.6 244.2,943.8 244.6,945.9 245.0,943.1 245.5,944.5 245.9,944.5 246.3,944.7 246.7,944.1 247.1,943.2 247.5,943.2 247.9,943.7 248.3,943.0 248.8,944.4 249.2,942.6 249.6,944.8 250.0,948.4 250.4,942.7 250.8,944.9 251.2,947.3 251.6,945.4 252.0,946.7 252.5,941.5 252.9,944.7 253.3,948.5 253.7,944.7 254.1,946.4 254.5,942.5 254.9,947.7 255.3,949.6 255.7,945.6 256.2,946.3 256.6,946.6 257.0,949.3 257.4,945.1 257.8,943.0 258.2,949.4 258.6,943.9 259.0,946.8 259.4,941.8 259.9,944.8 260.3,946.0 260.7,943.2 261.1,944.0 261.5,945.9 261.9,943.7 262.3,946.1 262.7,948.1 263.2,941.6 263.6,946.0 264.0,946.6 264.4,944.9 264.8,948.0 265.2,947.8 265.6,946.2 266.0,946.3 266.4,945.2 266.9,943.3 267.3,946.1 267.7,944.2 268.1,944.0 268.5,946.8 268.9,944.4 269.3,946.8 269.7,943.3 270.1,944.6 270.6,945.5 271.0,948.1 271.4,945.8 271.8,947.0 272.2,944.4 272.6,945.7 273.0,947.0 273.4,944.0 273.8,943.9 274.3,946.3 274.7,943.0 275.1,945.8 275.5,945.9 275.9,944.8 276.3,946.3 276.7,945.9 277.1,945.4 277.6,942.5 278.0,942.2 278.4,945.5 278.8,942.7 279.2,945.3 279.6,944.7 280.0,943.4 280.4,944.4 280.8,940.5 281.3,944.2 281.7,946.9 282.1,942.6 282.5,946.1 282.9,946.3 283.3,951.5 283.7,944.4 284.1,944.6 284.5,944.2 285.0,943.7 285.4,942.4 285.8,945.0 286.2,943.5 286.6,946.6 287.0,946.6 287.4,944.0 287.8,945.0 288.2,948.3 288.7,945.1 289.1,945.9 289.5,946.6 289.9,944.6 290.3,946.3 290.7,948.3 291.1,947.4 291.5,942.3 292.0,948.4 292.4,945.5 292.8,944.5 293.2,944.5 293.6,947.7 294.0,946.2 294.4,945.1 294.8,943.5 295.2,946.1 295.7,946.8 296.1,943.2 296.5,943.2 296.9,944.6 297.3,946.3 297.7,944.4 298.1,944.7 298.5,943.2 298.9,946.8 299.4,944.3 299.8,945.1 300.2,947.0 300.6,945.1 301.0,945.4 301.4,946.4 301.8,945.0 302.2,948.4 302.6,945.8 303.1,945.0 303.5,945.3 303.9,943.9 304.3,948.1 304.7,948.3 305.1,945.5 305.5,944.9 305.9,942.2 306.4,945.0 306.8,947.5 307.2,944.6 307.6,947.6 308.0,948.7 308.4,941.4 308.8,945.3 309.2,944.7 309.6,945.1 310.1,942.4 310.5,945.4 310.9,943.5 311.3,947.2 311.7,948.2 312.1,943.3 312.5,943.5 312.9,945.0 313.3,945.6 313.8,945.7 314.2,947.0 314.6,942.9 315.0,945.0 315.4,945.2 315.8,945.6 316.2,944.5 316.6,945.4 317.0,945.0 317.5,947.7 317.9,944.6 318.3,941.4 318.7,946.4 319.1,945.8 319.5,943.9 319.9,944.1 320.3,945.0 320.8,949.1 321.2,945.1 321.6,948.0 322.0,947.3 322.4,944.6 322.8,945.9 323.2,944.5 323.6,940.4 324.0,944.7 324.5,944.6 324.9,947.7 325.3,947.3 325.7,947.8 326.1,946.6 326.5,947.7 326.9,947.2 327.3,946.4 327.7,947.7 328.2,948.4 328.6,948.7 329.0,945.3 329.4,946.0 329.8,944.1 330.2,944.1 330.6,946.3 331.0,944.1 331.4,948.1 331.9,941.4 332.3,943.5 332.7,945.9 333.1,947.7 333.5,944.9 333.9,948.8 334.3,947.2 334.7,944.0 335.2,945.5 335.6,946.5 336.0,944.2 336.4,947.6 336.8,944.8 337.2,946.7 337.6,947.2 338.0,944.9 338.4,947.6 338.9,942.3 339.3,946.7 339.7,941.9 340.1,947.8 340.5,944.7 340.9,947.8 341.3,948.3 341.7,946.0 342.1,945.1 342.6,948.5 343.0,944.1 343.4,947.6 343.8,945.8 344.2,945.3 344.6,944.7 345.0,948.7 345.4,942.7 345.8,944.8 346.3,946.4 346.7,947.3 347.1,948.4 347.5,947.9 347.9,944.5 348.3,946.3 348.7,948.0 349.1,946.8 349.6,942.9 350.0,946.0 350.4,946.4 350.8,942.7 351.2,944.3 351.6,945.3 352.0,946.7 352.4,948.7 352.8,948.0 353.3,946.9 353.7,946.6 354.1,945.7 354.5,945.7 354.9,946.4 355.3,946.4 355.7,948.4 356.1,950.2 356.5,946.9 357.0,947.3 357.4,946.6 357.8,945.9 358.2,947.5 358.6,947.3 359.0,945.6 359.4,945.7 359.8,947.1 360.2,945.3 360.7,946.5 361.1,948.0 361.5,946.2 361.9,942.6 362.3,946.8 362.7,943.4 363.1,942.9 363.5,942.7 364.0,946.8 364.4,941.9 364.8,945.5 365.2,946.4 365.6,946.3 366.0,944.8 366.4,945.9 366.8,946.2 367.2,943.3 367.7,946.8 368.1,947.4 368.5,944.2 368.9,944.3 369.3,943.8 369.7,947.9 370.1,943.8 370.5,945.3 370.9,942.7 371.4,948.1 371.8,945.4 372.2,946.2 372.6,948.7 373.0,946.9 373.4,944.2 373.8,946.8 374.2,947.4 374.6,944.3 375.1,944.2 375.5,944.2 375.9,947.3 376.3,946.1 376.7,944.2 377.1,947.5 377.5,947.7 377.9,944.8 378.4,943.4 378.8,948.3 379.2,950.4 379.6,948.7 380.0,948.2 380.4,946.6 380.8,945.4 381.2,946.7 381.6,947.8 382.1,946.2 382.5,947.8 382.9,946.3 383.3,947.0 383.7,940.8 384.1,944.3 384.5,947.2 384.9,947.7 385.3,946.6 385.8,948.8 386.2,947.6 386.6,947.4 387.0,944.7 387.4,947.0 387.8,948.0 388.2,948.8 388.6,948.3 389.0,946.4 389.5,946.6 389.9,943.9 390.3,947.1 390.7,944.4 391.1,945.5 391.5,946.1 391.9,949.5 392.3,948.3 392.8,944.5 393.2,943.3 393.6,945.7 394.0,944.6 394.4,946.6 394.8,946.7 395.2,947.1 395.6,944.1 396.0,945.2 396.5,946.1 396.9,946.4 397.3,945.2 397.7,945.5 398.1,947.5 398.5,943.3 398.9,946.3 399.3,946.9 399.7,943.8 400.2,944.9 400.6,947.0 401.0,945.7 401.4,948.1 401.8,947.1 402.2,950.2 402.6,943.9 403.0,949.1 403.4,944.4 403.9,947.3 404.3,947.8 404.7,946.5 405.1,945.5 405.5,945.3 405.9,943.2 406.3,945.7 406.7,944.5 407.2,946.9 407.6,944.6 408.0,945.6 408.4,946.9 408.8,945.9 409.2,946.1 409.6,945.8 410.0,945.4 410.4,946.9 410.9,947.3 411.3,945.3 411.7,949.3 412.1,947.2 412.5,943.3 412.9,950.8 413.3,947.0 413.7,944.5 414.1,948.7 414.6,941.4 415.0,950.8 415.4,943.5 415.8,943.3 416.2,944.4 416.6,946.3 417.0,945.2 417.4,947.7 417.8,944.8 418.3,948.6 418.7,946.9 419.1,944.8 419.5,948.5 419.9,947.0 420.3,946.0 420.7,948.5 421.1,944.3 421.6,945.8 422.0,949.2 422.4,946.7 422.8,948.0 423.2,947.7 423.6,946.5 424.0,948.1 424.4,945.1 424.8,947.9 425.3,944.8 425.7,946.5 426.1,944.5 426.5,946.6 426.9,946.5 427.3,947.9 427.7,945.0 428.1,944.6 428.5,942.7 429.0,944.2 429.4,946.0 429.8,946.7 430.2,945.4 430.6,946.0 431.0,943.4 431.4,944.3 431.8,947.5 432.3,947.4 432.7,943.8 433.1,945.6 433.5,946.7 433.9,944.3 434.3,946.6 434.7,946.4 435.1,946.8 435.5,949.5 436.0,944.6 436.4,948.2 436.8,947.2 437.2,947.2 437.6,944.5 438.0,945.9 438.4,945.5 438.8,948.4 439.2,945.9 439.7,948.5 440.1,945.5 440.5,945.3 440.9,946.0 441.3,942.3 441.7,945.3 442.1,944.9 442.5,945.4 442.9,945.9 443.4,944.0 443.8,944.0 444.2,947.9 444.6,944.0 445.0,945.3 445.4,944.7 445.8,945.4 446.2,948.1 446.7,948.4 447.1,942.8 447.5,945.8 447.9,949.0 448.3,946.1 448.7,947.6 449.1,949.7 449.5,950.8 449.9,949.3 450.4,945.4 450.8,945.8 451.2,946.1 451.6,945.3 452.0,944.7 452.4,949.6 452.8,946.6 453.2,947.5 453.6,947.9 454.1,946.6 454.5,945.6 454.9,945.7 455.3,948.1 455.7,946.6 456.1,942.6 456.5,948.3 456.9,949.4 457.3,946.2 457.8,945.2 458.2,945.0 458.6,947.6 459.0,943.8 459.4,947.0 459.8,947.4 460.2,946.9 460.6,946.2 461.1,944.8 461.5,944.9 461.9,945.9 462.3,944.1 462.7,945.6 463.1,944.2 463.5,948.5 463.9,948.7 464.3,944.9 464.8,948.8 465.2,946.7 465.6,946.2 466.0,946.8 466.4,947.1 466.8,943.4 467.2,950.5 467.6,944.3 468.0,941.9 468.5,945.8 468.9,945.3 469.3,944.2 469.7,942.0 470.1,947.8 470.5,945.5 470.9,946.1 471.3,945.1 471.7,945.9 472.2,945.2 472.6,946.6 473.0,946.2 473.4,947.4 473.8,947.5 474.2,946.4 474.6,946.5 475.0,948.5 475.5,943.4 475.9,946.4 476.3,948.3 476.7,944.1 477.1,947.3 477.5,945.4 477.9,946.2 478.3,945.7 478.7,946.1 479.2,947.2 479.6,946.4 480.0,943.0 480.4,950.8 480.8,946.9 481.2,946.2 481.6,949.0 482.0,949.3 482.4,942.6 482.9,947.0 483.3,942.7 483.7,945.7 484.1,946.1 484.5,945.8 484.9,945.6 485.3,944.4 485.7,945.4 486.1,945.9 486.6,946.2 487.0,943.6 487.4,944.3 487.8,947.9 488.2,947.2 488.6,945.3 489.0,946.8 489.4,946.3 489.9,947.6 490.3,946.4 490.7,945.3 491.1,944.0 491.5,945.9 491.9,942.4 492.3,945.8 492.7,939.9 493.1,943.7 493.6,945.0 494.0,946.8 494.4,951.0 494.8,946.4 495.2,945.8 495.6,942.9 496.0,948.9 496.4,943.0 496.8,946.9 497.3,945.4 497.7,951.2 498.1,946.4 498.5,946.9 498.9,945.1 499.3,946.0 499.7,948.2 500.1,944.4 500.5,945.0 501.0,945.2 501.4,944.4 501.8,944.2 502.2,946.6 502.6,949.2 503.0,949.3 503.4,944.7 503.8,945.7 504.3,946.9 504.7,947.5 505.1,946.4 505.5,946.0 505.9,946.5 506.3,947.3 506.7,942.3 507.1,946.0 507.5,947.6 508.0,948.7 508.4,947.7 508.8,945.2 509.2,945.3 509.6,946.8 510.0,946.1 510.4,946.9 510.8,948.5 511.2,944.6 511.7,946.3 512.1,942.8 512.5,949.0 512.9,947.7 513.3,945.6 513.7,947.5 514.1,949.3 514.5,948.1 514.9,946.1 515.4,945.7 515.8,946.8 516.2,944.7 516.6,945.1 517.0,946.6 517.4,946.8 517.8,947.6 518.2,946.1 518.7,945.4 519.1,946.7 519.5,945.9 519.9,947.3 520.3,949.1 520.7,948.4 521.1,945.2 521.5,945.8 521.9,943.9 522.4,946.7 522.8,944.9 523.2,943.9 523.6,944.4 524.0,947.1 524.4,946.3 524.8,945.9 525.2,948.3 525.6,945.6 526.1,944.5 526.5,947.4 526.9,943.0 527.3,946.7 527.7,946.2 528.1,946.6 528.5,947.5 528.9,945.4 529.3,946.0 529.8,943.4 530.2,945.5 530.6,945.4 531.0,947.1 531.4,949.2 531.8,947.1 532.2,948.3 532.6,945.2 533.1,946.9 533.5,943.8 533.9,945.6 534.3,945.2 534.7,946.4 535.1,946.2 535.5,945.6 535.9,944.9 536.3,947.9 536.8,946.0 537.2,942.2 537.6,947.0 538.0,947.1 538.4,947.9 538.8,948.9 539.2,944.1 539.6,945.9 540.0,945.5 540.5,942.7 540.9,941.6 541.3,947.7 541.7,944.3 542.1,945.1 542.5,945.5 542.9,945.2 543.3,946.1 543.7,943.5 544.2,945.2 544.6,945.7 545.0,944.1 545.4,944.9 545.8,945.7 546.2,945.6 546.6,943.1 547.0,945.4 547.5,946.3 547.9,947.4 548.3,946.4 548.7,947.7 549.1,945.7 549.5,945.3 549.9,949.7 550.3,946.2 550.7,945.3 551.2,946.2 551.6,948.0 552.0,944.1 552.4,947.4 552.8,948.3 553.2,948.3 553.6,946.5 554.0,945.0 554.4,944.8 554.9,946.6 555.3,949.1 555.7,948.0 556.1,948.2 556.5,946.8 556.9,949.8 557.3,946.7 557.7,946.0 558.1,947.1 558.6,946.2 559.0,948.4 559.4,948.9 559.8,947.3 560.2,944.0 560.6,944.5 561.0,946.9 561.4,944.1 561.9,947.0 562.3,943.5 562.7,945.2 563.1,946.7 563.5,944.4 563.9,947.3 564.3,947.6 564.7,948.8 565.1,945.9 565.6,946.5 566.0,946.7 566.4,947.0 566.8,943.9 567.2,947.1 567.6,947.7 568.0,944.5 568.4,944.2 568.8,946.7 569.3,950.4 569.7,948.3 570.1,946.1 570.5,946.7 570.9,943.7 571.3,948.5 571.7,944.6 572.1,947.0 572.5,943.4 573.0,946.1 573.4,944.4 573.8,947.3 574.2,948.6 574.6,948.0 575.0,947.1 575.4,947.7 575.8,943.8 576.3,943.8 576.7,946.1 577.1,948.4 577.5,947.0 577.9,947.9 578.3,943.8 578.7,946.0 579.1,945.5 579.5,947.3 580.0,950.0 580.4,948.0" stroke="#e67c5c" stroke-width="0.65"/></g>
<line x1="128.2" y1="946.60" x2="670.8" y2="946.60" stroke="#000" stroke-width="1.6"/>
<path d="M218.63 993.10V984.60M218.63 900.10V908.60M309.07 993.10V984.60M309.07 900.10V908.60M399.50 993.10V984.60M399.50 900.10V908.60M489.93 993.10V984.60M489.93 900.10V908.60M580.37 993.10V984.60M580.37 900.10V908.60M128.20 923.35H136.70M670.80 923.35H662.30M128.20 969.85H136.70M670.80 969.85H662.30" stroke="#0000c8" stroke-opacity="0.4" stroke-width="1" fill="none"/><rect x="128.20" y="900.10" width="542.60" height="93.00" fill="none" stroke="#1a16c6" stroke-width="2"/>
<g transform="translate(89.98,24.62)" fill="#000"><g transform="scale(1,1.04)"><text x="0.00" y="0" font-size="30.5" style="white-space:pre" letter-spacing="0.0">3</text></g></g>
<g transform="translate(64.54,160.17)" fill="#000"><g transform="scale(1,1.04)"><text x="0.00" y="0" font-size="30.5" style="white-space:pre" letter-spacing="0.0">2.6</text></g></g>
<g transform="translate(64.73,295.62)" fill="#000"><g transform="scale(1,1.04)"><text x="0.00" y="0" font-size="30.5" style="white-space:pre" letter-spacing="0.0">2.2</text></g></g>
<g transform="translate(64.53,430.57)" fill="#000"><g transform="scale(1,1.04)"><path transform="translate(0.00,0) scale(0.014893,-0.014893)" d="M763 0H583V1102Q518 1042 412 983Q306 924 223 894V1061Q373 1129 485 1226Q597 1323 643 1409H763Z"/><text x="16.96" y="0" font-size="30.5" style="white-space:pre" letter-spacing="0.0">.8</text></g></g>
<g transform="translate(64.09,565.86)" fill="#000"><g transform="scale(1,1.04)"><path transform="translate(0.00,0) scale(0.014893,-0.014893)" d="M763 0H583V1102Q518 1042 412 983Q306 924 223 894V1061Q373 1129 485 1226Q597 1323 643 1409H763Z"/><text x="16.96" y="0" font-size="30.5" style="white-space:pre" letter-spacing="0.0">.4</text></g></g>
<g transform="translate(111.97,596.62)" fill="#000"><g transform="scale(1,1.04)"><text x="0.00" y="0" font-size="30.5" style="white-space:pre" letter-spacing="0.0">0</text></g></g>
<g transform="translate(279.55,596.62)" fill="#000"><g transform="scale(1,1.04)"><text x="0.00" y="0" font-size="30.5" style="white-space:pre" letter-spacing="0.0">0.</text><path transform="translate(25.44,0) scale(0.014893,-0.014893)" d="M763 0H583V1102Q518 1042 412 983Q306 924 223 894V1061Q373 1129 485 1226Q597 1323 643 1409H763Z"/></g></g>
<g transform="translate(460.27,596.62)" fill="#000"><g transform="scale(1,1.04)"><text x="0.00" y="0" font-size="30.5" style="white-space:pre" letter-spacing="0.0">0.2</text></g></g>
<g transform="translate(640.57,596.62)" fill="#000"><g transform="scale(1,1.04)"><text x="0.00" y="0" font-size="30.5" style="white-space:pre" letter-spacing="0.0">0.3</text></g></g>
<g transform="translate(299.34,645.49)" fill="#000"><g transform="scale(1,1.0)"><text x="0.00" y="0" font-size="39" style="white-space:pre" letter-spacing="0.0">Time (sec)</text></g></g>
<g transform="translate(20.05,286.65) rotate(-90) translate(-148.11,10.09)" fill="#000"><g transform="scale(1,1.0)"><text x="0.00" y="0" font-size="39" style="white-space:pre" letter-spacing="-0.1">Fluorescence (V)</text></g></g>
<g transform="translate(68.09,715.32)" fill="#000"><g transform="scale(1,1.04)"><text x="0.00" y="0" font-size="27.7" style="white-space:pre" letter-spacing="0.0">0.2</text></g></g>
<g transform="translate(90.88,761.77)" fill="#000"><g transform="scale(1,1.04)"><text x="0.00" y="0" font-size="27.7" style="white-space:pre" letter-spacing="0.0">0</text></g></g>
<g transform="translate(59.06,808.07)" fill="#000"><g transform="scale(1,1.04)"><text x="0.00" y="0" font-size="27.7" style="white-space:pre" letter-spacing="0.0">-0.2</text></g></g>
<g transform="translate(111.05,834.22)" fill="#000"><g transform="scale(1,1.04)"><text x="0.00" y="0" font-size="27.7" style="white-space:pre" letter-spacing="0.0">0</text></g></g>
<g transform="translate(280.75,834.22)" fill="#000"><g transform="scale(1,1.04)"><text x="0.00" y="0" font-size="27.7" style="white-space:pre" letter-spacing="0.0">0.</text><path transform="translate(23.10,0) scale(0.013525,-0.013525)" d="M763 0H583V1102Q518 1042 412 983Q306 924 223 894V1061Q373 1129 485 1226Q597 1323 643 1409H763Z"/></g></g>
<g transform="translate(461.70,834.22)" fill="#000"><g transform="scale(1,1.04)"><text x="0.00" y="0" font-size="27.7" style="white-space:pre" letter-spacing="0.0">0.2</text></g></g>
<g transform="translate(642.21,834.22)" fill="#000"><g transform="scale(1,1.04)"><text x="0.00" y="0" font-size="27.7" style="white-space:pre" letter-spacing="0.0">0.3</text></g></g>
<g transform="translate(318.94,870.24)" fill="#000"><g transform="scale(1,1.0)"><text x="0.00" y="0" font-size="30.5" style="white-space:pre" letter-spacing="0.0">Time (sec)</text></g></g>
<g transform="translate(36.00,752.65) rotate(-90) translate(-63.23,5.43)" fill="#000"><g transform="scale(1,1.0)"><text x="0.00" y="0" font-size="21" style="white-space:pre" letter-spacing="0.0">Residuals (V)</text></g></g>
<g transform="translate(541.26,733.47)" fill="#000"><g transform="scale(1,1.0)"><text x="0.00" y="0" font-size="21" style="white-space:pre" letter-spacing="0.0">APP mRNA</text></g></g>
<g transform="translate(80.79,911.22)" fill="#000"><g transform="scale(1,1.04)"><text x="0.00" y="0" font-size="27.7" style="white-space:pre" letter-spacing="0.0">0.2</text></g></g>
<g transform="translate(103.58,957.87)" fill="#000"><g transform="scale(1,1.04)"><text x="0.00" y="0" font-size="27.7" style="white-space:pre" letter-spacing="0.0">0</text></g></g>
<g transform="translate(71.56,1005.47)" fill="#000"><g transform="scale(1,1.04)"><text x="0.00" y="0" font-size="27.7" style="white-space:pre" letter-spacing="0.0">-0.2</text></g></g>
<g transform="translate(113.80,1028.22)" fill="#000"><g transform="scale(1,1.04)"><text x="0.00" y="0" font-size="27.7" style="white-space:pre" letter-spacing="0.0">0</text></g></g>
<g transform="translate(284.05,1028.22)" fill="#000"><g transform="scale(1,1.04)"><text x="0.00" y="0" font-size="27.7" style="white-space:pre" letter-spacing="0.0">0.</text><path transform="translate(23.10,0) scale(0.013525,-0.013525)" d="M763 0H583V1102Q518 1042 412 983Q306 924 223 894V1061Q373 1129 485 1226Q597 1323 643 1409H763Z"/></g></g>
<g transform="translate(464.50,1028.22)" fill="#000"><g transform="scale(1,1.04)"><text x="0.00" y="0" font-size="27.7" style="white-space:pre" letter-spacing="0.0">0.2</text></g></g>
<g transform="translate(645.81,1028.22)" fill="#000"><g transform="scale(1,1.04)"><text x="0.00" y="0" font-size="27.7" style="white-space:pre" letter-spacing="0.0">0.3</text></g></g>
<g transform="translate(327.89,1065.39)" fill="#000"><g transform="scale(1,1.0)"><text x="0.00" y="0" font-size="30.5" style="white-space:pre" letter-spacing="0.0">Time (sec)</text></g></g>
<g transform="translate(45.30,946.15) rotate(-90) translate(-63.23,5.43)" fill="#000"><g transform="scale(1,1.0)"><text x="0.00" y="0" font-size="21" style="white-space:pre" letter-spacing="0.0">Residuals (V)</text></g></g>
<g transform="translate(514.16,929.04)" fill="#000"><g transform="scale(1,1.0)"><text x="0.00" y="0" font-size="21" style="white-space:pre" letter-spacing="0.0">APP mRNA_Fe</text></g></g>
</svg>
</body></html>
